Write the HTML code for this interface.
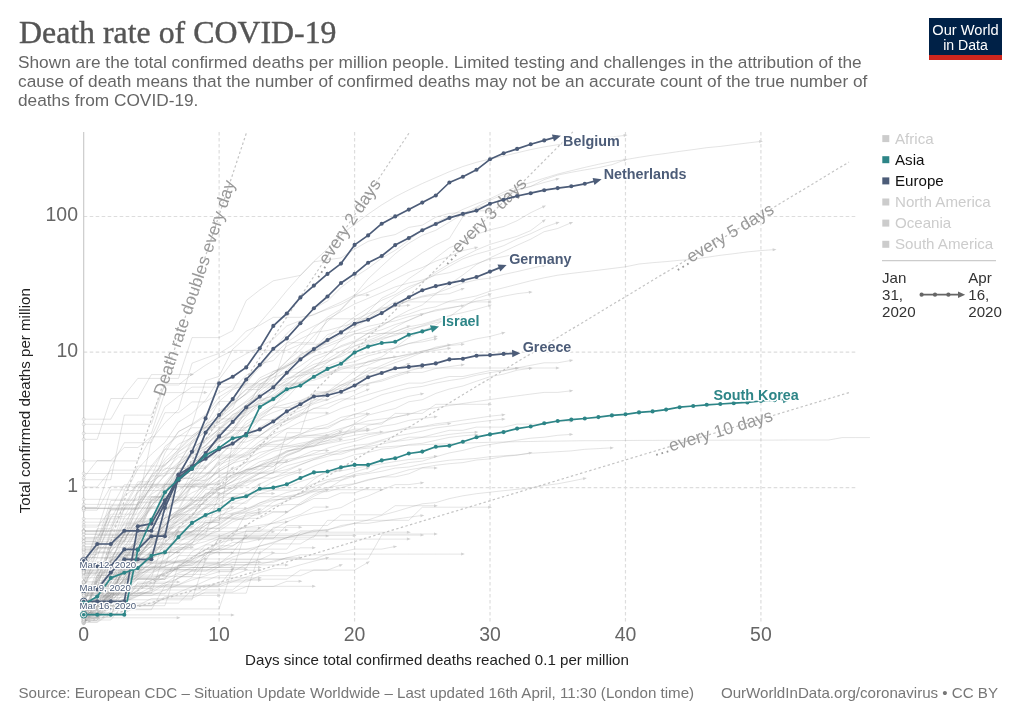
<!DOCTYPE html><html><head><meta charset="utf-8"><title>Death rate of COVID-19</title>
<style>html,body{margin:0;padding:0;background:#fff}svg{display:block}text{font-family:"Liberation Sans",Arial,sans-serif}</style></head><body>
<svg width="1020" height="720" viewBox="0 0 1020 720">
<rect width="1020" height="720" fill="#fff"/>
<text x="19" y="42.7" font-size="31.6" fill="#555" style="font-family:'Liberation Serif',Georgia,serif" textLength="317.5" lengthAdjust="spacingAndGlyphs" stroke="#555" stroke-width="0.4">Death rate of COVID-19</text>
<text x="18" y="67.7" font-size="17.28" fill="#666">Shown are the total confirmed deaths per million people. Limited testing and challenges in the attribution of the</text>
<text x="18" y="86.7" font-size="17.28" fill="#666">cause of death means that the number of confirmed deaths may not be an accurate count of the true number of</text>
<text x="18" y="105.7" font-size="17.28" fill="#666">deaths from COVID-19.</text>
<g><rect x="929" y="18" width="73" height="42" fill="#002147"/><rect x="929" y="55" width="73" height="5" fill="#ce261e"/>
<text x="965.5" y="34.5" font-size="15.5" fill="#fff" text-anchor="middle" textLength="66.5" lengthAdjust="spacingAndGlyphs">Our World</text>
<text x="965.5" y="50" font-size="15.5" fill="#fff" text-anchor="middle" textLength="44.7" lengthAdjust="spacingAndGlyphs">in Data</text></g>
<g stroke="#ddd" stroke-width="1.2" stroke-dasharray="3.6 2.4" fill="none"><line x1="83.67" y1="487.60" x2="857.4" y2="487.60"/><line x1="83.67" y1="352.05" x2="857.4" y2="352.05"/><line x1="83.67" y1="216.50" x2="857.4" y2="216.50"/><line x1="219.12" y1="131.9" x2="219.12" y2="623.2"/><line x1="354.57" y1="131.9" x2="354.57" y2="623.2"/><line x1="490.02" y1="131.9" x2="490.02" y2="623.2"/><line x1="625.47" y1="131.9" x2="625.47" y2="623.2"/><line x1="760.92" y1="131.9" x2="760.92" y2="623.2"/></g>
<line x1="83.67" y1="131.9" x2="83.67" y2="624.7" stroke="#ccc" stroke-width="1.2"/>
<text x="78" y="492.4" font-size="19.44" fill="#666" text-anchor="end">1</text>
<text x="78" y="356.9" font-size="19.44" fill="#666" text-anchor="end">10</text>
<text x="78" y="221.3" font-size="19.44" fill="#666" text-anchor="end">100</text>
<text x="83.7" y="641.4" font-size="19.44" fill="#666" text-anchor="middle">0</text>
<text x="219.1" y="641.4" font-size="19.44" fill="#666" text-anchor="middle">10</text>
<text x="354.6" y="641.4" font-size="19.44" fill="#666" text-anchor="middle">20</text>
<text x="490.0" y="641.4" font-size="19.44" fill="#666" text-anchor="middle">30</text>
<text x="625.5" y="641.4" font-size="19.44" fill="#666" text-anchor="middle">40</text>
<text x="760.9" y="641.4" font-size="19.44" fill="#666" text-anchor="middle">50</text>
<text x="437" y="665.1" font-size="15.12" fill="#222" text-anchor="middle">Days since total confirmed deaths reached 0.1 per million</text>
<text transform="translate(29.7,400.7) rotate(-90)" font-size="15.12" fill="#222" text-anchor="middle">Total confirmed deaths per million</text>
<g fill="none" stroke="#8c8c8c" stroke-width="1" stroke-opacity="0.23" stroke-linejoin="round"><path d="M83.7,619.2 L97.2,578.4 L110.8,547.2 L124.3,517.8 L137.8,504.6 L151.4,487.3 L164.9,453.1 L178.5,431.6 L192.0,424.7 L205.6,380.6 L219.1,376.4 L232.7,349.2 L246.2,337.6 L259.8,322.9 L273.3,307.2 L286.8,290.7 L300.4,275.4 L313.9,261.4 L327.5,248.9 L341.0,234.7 L354.6,224.4 L368.1,214.2 L381.7,204.9 L395.2,196.8 L408.8,189.9 L422.3,183.5 L435.8,177.6 L449.4,171.7 L462.9,166.5 L476.5,162.3 L490.0,159.0 L503.6,156.0 L517.1,152.8 L530.7,149.6 L544.2,146.9 L557.7,144.7 L571.3,142.8 L584.8,140.6 L598.4,138.8 L611.9,137.0 L625.5,135.3"/><polygon points="627.5,135.0 623.9,137.0 623.5,134.0" fill="#d2d2d2" stroke="none"/><circle cx="83.7" cy="619.2" r="1.5" fill="#fff" fill-opacity="0.6"/><path d="M83.7,593.5 L97.2,582.8 L110.8,562.3 L124.3,549.9 L137.8,530.8 L151.4,521.5 L164.9,496.5 L178.5,471.9 L192.0,454.0 L205.6,434.9 L219.1,418.1 L232.7,408.2 L246.2,381.6 L259.8,367.8 L273.3,349.5 L286.8,333.6 L300.4,321.5 L313.9,308.5 L327.5,300.9 L341.0,287.5 L354.6,277.1 L368.1,268.4 L381.7,258.2 L395.2,250.3 L408.8,240.3 L422.3,229.8 L435.8,222.3 L449.4,216.2 L462.9,209.4 L476.5,203.8 L490.0,198.8 L503.6,192.2 L517.1,186.7 L530.7,182.5 L544.2,178.2 L557.7,174.1 L571.3,170.7 L584.8,167.4 L598.4,164.3 L611.9,161.6 L625.5,159.6 L639.0,157.3 L652.6,155.2 L666.1,153.4 L679.6,151.4 L693.2,149.6 L706.7,147.7 L720.3,146.4 L733.8,144.7 L747.4,143.0 L760.9,141.4"/><polygon points="762.9,141.2 759.3,143.1 759.0,140.1" fill="#d2d2d2" stroke="none"/><circle cx="83.7" cy="593.5" r="1.5" fill="#fff" fill-opacity="0.6"/><path d="M83.7,604.2 L97.2,570.4 L110.8,560.2 L124.3,533.4 L137.8,527.7 L151.4,505.7 L164.9,491.6 L178.5,476.4 L192.0,468.0 L205.6,448.4 L219.1,439.4 L232.7,429.5 L246.2,410.0 L259.8,385.1 L273.3,373.9 L286.8,360.9 L300.4,350.2 L313.9,335.8 L327.5,321.3 L341.0,310.1 L354.6,295.8 L368.1,286.3 L381.7,277.5 L395.2,270.5 L408.8,261.8 L422.3,252.8 L435.8,244.9 L449.4,238.4 L462.9,216.7 L476.5,207.9 L490.0,203.9 L503.6,198.2 L517.1,189.5 L530.7,186.5 L544.2,179.6 L557.7,175.1 L571.3,172.3 L584.8,169.9 L598.4,167.6 L611.9,164.7 L625.5,159.6"/><polygon points="627.3,158.9 624.3,161.6 623.3,158.8" fill="#d2d2d2" stroke="none"/><circle cx="83.7" cy="604.2" r="1.5" fill="#fff" fill-opacity="0.6"/><path d="M83.7,613.5 L97.2,613.5 L110.8,556.7 L124.3,556.7 L137.8,526.6 L151.4,500.0 L164.9,494.9 L178.5,463.1 L192.0,443.3 L205.6,431.2 L219.1,415.0 L232.7,404.0 L246.2,393.6 L259.8,380.0 L273.3,374.6 L286.8,361.5 L300.4,345.5 L313.9,328.2 L327.5,317.2 L341.0,309.1 L354.6,295.0 L368.1,278.9 L381.7,266.2 L395.2,253.8 L408.8,243.2 L422.3,235.3 L435.8,230.3 L449.4,222.2 L462.9,213.9 L476.5,207.0 L490.0,200.2 L503.6,194.5 L517.1,190.2 L530.7,186.4 L544.2,182.5 L557.7,178.9"/><polygon points="559.7,178.4 556.4,180.8 555.6,177.9" fill="#d2d2d2" stroke="none"/><circle cx="83.7" cy="613.5" r="1.5" fill="#fff" fill-opacity="0.6"/><path d="M83.7,612.0 L97.2,602.5 L110.8,591.2 L124.3,579.9 L137.8,567.6 L151.4,553.5 L164.9,534.2 L178.5,515.8 L192.0,501.8 L205.6,486.0 L219.1,466.8 L232.7,453.6 L246.2,435.6 L259.8,419.6 L273.3,407.2 L286.8,391.0 L300.4,376.3 L313.9,368.4 L327.5,354.6 L341.0,339.8 L354.6,326.2 L368.1,316.5 L381.7,306.7 L395.2,296.5 L408.8,289.1 L422.3,281.4 L435.8,272.0 L449.4,263.8 L462.9,256.8 L476.5,249.9 L490.0,244.4 L503.6,240.3 L517.1,236.3 L530.7,230.6 L544.2,220.4"/><polygon points="545.8,219.2 543.7,222.7 541.9,220.3" fill="#d2d2d2" stroke="none"/><circle cx="83.7" cy="612.0" r="1.5" fill="#fff" fill-opacity="0.6"/><path d="M83.7,582.9 L97.2,582.9 L110.8,582.9 L124.3,559.1 L137.8,542.1 L151.4,518.3 L164.9,501.3 L178.5,477.5 L192.0,464.3 L205.6,453.6 L219.1,439.2 L232.7,431.9 L246.2,411.2 L259.8,391.1 L273.3,380.8 L286.8,370.4 L300.4,355.0 L313.9,347.0 L327.5,339.5 L341.0,332.0 L354.6,323.2 L368.1,312.1 L381.7,298.2 L395.2,291.6 L408.8,278.7 L422.3,269.7 L435.8,258.1 L449.4,247.7 L462.9,242.7 L476.5,234.3 L490.0,229.9 L503.6,226.5 L517.1,220.7 L530.7,212.7 L544.2,206.3"/><polygon points="546.0,205.4 543.2,208.4 541.9,205.7" fill="#d2d2d2" stroke="none"/><circle cx="83.7" cy="582.9" r="1.5" fill="#fff" fill-opacity="0.6"/><path d="M83.7,621.6 L97.2,602.5 L110.8,589.1 L124.3,562.3 L137.8,537.8 L151.4,521.2 L164.9,502.0 L178.5,490.7 L192.0,479.8 L205.6,468.0 L219.1,450.8 L232.7,441.0 L246.2,421.2 L259.8,413.8 L273.3,405.1 L286.8,397.9 L300.4,383.0 L313.9,373.2 L327.5,362.5 L341.0,353.7 L354.6,342.0 L368.1,333.0 L381.7,326.2 L395.2,317.5 L408.8,310.3 L422.3,305.0 L435.8,293.8 L449.4,284.2 L462.9,275.0 L476.5,264.5 L490.0,257.9 L503.6,251.6 L517.1,245.3 L530.7,239.2 L544.2,231.7 L557.7,228.5 L571.3,222.7"/><polygon points="573.1,221.9 570.2,224.8 569.0,222.0" fill="#d2d2d2" stroke="none"/><circle cx="83.7" cy="621.6" r="1.5" fill="#fff" fill-opacity="0.6"/><path d="M83.7,581.6 L97.2,581.6 L110.8,540.8 L124.3,540.8 L137.8,517.0 L151.4,500.0 L164.9,486.9 L178.5,467.1 L192.0,452.3 L205.6,446.1 L219.1,430.6 L232.7,418.4 L246.2,405.3 L259.8,387.6 L273.3,374.0 L286.8,364.5 L300.4,356.2 L313.9,350.2 L327.5,337.7 L341.0,326.7 L354.6,316.7 L368.1,308.2 L381.7,300.3 L395.2,294.6 L408.8,286.7 L422.3,281.8 L435.8,274.0 L449.4,266.3 L462.9,258.8 L476.5,254.1 L490.0,250.3 L503.6,245.7 L517.1,239.0 L530.7,233.7 L544.2,227.3 L557.7,222.6"/><polygon points="559.6,222.0 556.5,224.7 555.6,221.8" fill="#d2d2d2" stroke="none"/><circle cx="83.7" cy="581.6" r="1.5" fill="#fff" fill-opacity="0.6"/><path d="M83.7,583.5 L97.2,542.7 L110.8,518.8 L124.3,495.0 L137.8,469.0 L151.4,454.2 L164.9,442.4 L178.5,422.2 L192.0,413.4 L205.6,400.2 L219.1,379.5 L232.7,361.4 L246.2,353.8 L259.8,347.1 L273.3,339.1 L286.8,325.9 L300.4,320.6 L313.9,314.2 L327.5,309.3 L341.0,304.4 L354.6,297.0 L368.1,292.2 L381.7,286.4 L395.2,279.0 L408.8,272.2 L422.3,267.5 L435.8,261.1 L449.4,256.3 L462.9,250.6 L476.5,247.5"/><polygon points="478.4,247.1 475.0,249.4 474.4,246.5" fill="#d2d2d2" stroke="none"/><circle cx="83.7" cy="583.5" r="1.5" fill="#fff" fill-opacity="0.6"/><path d="M83.7,591.0 L97.2,550.2 L110.8,526.3 L124.3,496.2 L137.8,485.5 L151.4,468.6 L164.9,449.8 L178.5,431.6 L192.0,424.2 L205.6,414.6 L219.1,397.0 L232.7,388.8 L246.2,375.3 L259.8,366.9 L273.3,355.1 L286.8,342.6 L300.4,333.0 L313.9,326.1 L327.5,319.3 L341.0,311.7 L354.6,304.0 L368.1,298.4 L381.7,292.6 L395.2,286.9 L408.8,283.0 L422.3,280.0 L435.8,275.1 L449.4,272.7 L462.9,268.3 L476.5,263.6 L490.0,259.1 L503.6,256.6 L517.1,253.8"/><polygon points="519.1,253.5 515.6,255.7 515.0,252.7" fill="#d2d2d2" stroke="none"/><circle cx="83.7" cy="591.0" r="1.5" fill="#fff" fill-opacity="0.6"/><path d="M83.7,616.9 L97.2,576.1 L110.8,552.3 L124.3,535.3 L137.8,502.4 L151.4,487.6 L164.9,461.6 L178.5,450.2 L192.0,437.7 L205.6,427.5 L219.1,411.1 L232.7,402.8 L246.2,389.1 L259.8,381.0 L273.3,374.0 L286.8,366.0 L300.4,358.3 L313.9,351.4 L327.5,341.3 L341.0,331.8 L354.6,327.3 L368.1,319.3 L381.7,313.2 L395.2,306.2 L408.8,300.2 L422.3,296.1 L435.8,293.3 L449.4,288.3 L462.9,283.2 L476.5,279.8 L490.0,278.1 L503.6,274.5 L517.1,271.6 L530.7,268.4 L544.2,265.4"/><polygon points="546.2,265.0 542.8,267.3 542.1,264.3" fill="#d2d2d2" stroke="none"/><circle cx="83.7" cy="616.9" r="1.5" fill="#fff" fill-opacity="0.6"/><path d="M83.7,602.2 L97.2,578.3 L110.8,550.2 L124.3,540.8 L137.8,515.8 L151.4,494.3 L164.9,485.5 L178.5,466.1 L192.0,448.2 L205.6,439.2 L219.1,421.3 L232.7,411.3 L246.2,401.0 L259.8,389.1 L273.3,377.5 L286.8,366.1 L300.4,359.4 L313.9,351.4 L327.5,346.4 L341.0,340.9 L354.6,334.1 L368.1,330.4 L381.7,325.3 L395.2,317.8 L408.8,314.1 L422.3,309.3 L435.8,306.8 L449.4,301.2 L462.9,298.6 L476.5,295.9 L490.0,291.2 L503.6,287.8 L517.1,284.3 L530.7,280.8 L544.2,277.8 L557.7,275.2 L571.3,273.4 L584.8,271.8 L598.4,270.2 L611.9,268.5 L625.5,266.8 L639.0,264.0 L652.6,262.7 L666.1,261.6 L679.6,260.3 L693.2,259.3 L706.7,257.3 L720.3,255.3 L733.8,253.7 L747.4,251.9 L760.9,250.6 L774.5,249.6"/><polygon points="776.5,249.4 772.8,251.2 772.6,248.2" fill="#d2d2d2" stroke="none"/><circle cx="83.7" cy="602.2" r="1.5" fill="#fff" fill-opacity="0.6"/><path d="M83.7,587.1 L97.2,587.1 L110.8,546.3 L124.3,522.4 L137.8,505.5 L151.4,481.6 L164.9,472.5 L178.5,464.7 L192.0,440.8 L205.6,423.9 L219.1,416.9 L232.7,405.1 L246.2,393.1 L259.8,377.8 L273.3,371.4 L286.8,365.7 L300.4,359.2 L313.9,352.3 L327.5,342.3 L341.0,334.5 L354.6,331.4 L368.1,326.3 L381.7,323.5 L395.2,320.9 L408.8,316.6 L422.3,313.7 L435.8,310.9 L449.4,308.3 L462.9,305.3 L476.5,301.0 L490.0,299.2 L503.6,296.2 L517.1,293.7 L530.7,292.1"/><polygon points="532.6,291.9 529.0,293.8 528.7,290.8" fill="#d2d2d2" stroke="none"/><circle cx="83.7" cy="587.1" r="1.5" fill="#fff" fill-opacity="0.6"/><path d="M83.7,619.7 L97.2,606.5 L110.8,586.7 L124.3,565.7 L137.8,550.3 L151.4,538.1 L164.9,524.9 L178.5,516.7 L192.0,507.3 L205.6,497.2 L219.1,479.9 L232.7,471.0 L246.2,462.2 L259.8,445.6 L273.3,430.2 L286.8,423.5 L300.4,415.2 L313.9,400.3 L327.5,391.8 L341.0,381.7 L354.6,371.1 L368.1,361.3 L381.7,356.9 L395.2,347.4 L408.8,337.5 L422.3,330.7 L435.8,324.9 L449.4,316.7 L462.9,307.2 L476.5,298.4 L490.0,294.2"/><polygon points="491.9,293.6 488.7,296.2 487.9,293.3" fill="#d2d2d2" stroke="none"/><circle cx="83.7" cy="619.7" r="1.5" fill="#fff" fill-opacity="0.6"/><path d="M83.7,619.3 L97.2,597.7 L110.8,575.3 L124.3,552.5 L137.8,539.3 L151.4,519.5 L164.9,494.5 L178.5,477.5 L192.0,462.6 L205.6,444.9 L219.1,432.8 L232.7,423.8 L246.2,409.8 L259.8,403.3 L273.3,390.7 L286.8,379.4 L300.4,371.4 L313.9,364.3 L327.5,360.6 L341.0,356.6 L354.6,349.7 L368.1,343.5 L381.7,338.3 L395.2,335.6 L408.8,330.9 L422.3,325.5 L435.8,321.0 L449.4,317.5"/><polygon points="451.3,317.0 448.0,319.4 447.3,316.5" fill="#d2d2d2" stroke="none"/><circle cx="83.7" cy="619.3" r="1.5" fill="#fff" fill-opacity="0.6"/><path d="M83.7,620.7 L97.2,579.9 L110.8,566.8 L124.3,539.1 L137.8,520.4 L151.4,502.1 L164.9,488.2 L178.5,472.1 L192.0,463.3 L205.6,449.0 L219.1,438.8 L232.7,431.3 L246.2,416.7 L259.8,401.4 L273.3,394.7 L286.8,383.8 L300.4,375.0 L313.9,367.4 L327.5,359.2 L341.0,351.1 L354.6,345.9 L368.1,340.7 L381.7,335.1 L395.2,327.2 L408.8,320.2 L422.3,314.2"/><polygon points="424.1,313.4 421.2,316.3 420.0,313.6" fill="#d2d2d2" stroke="none"/><circle cx="83.7" cy="620.7" r="1.5" fill="#fff" fill-opacity="0.6"/><path d="M83.7,615.6 L97.2,574.8 L110.8,561.7 L124.3,534.0 L137.8,510.1 L151.4,493.2 L164.9,474.5 L178.5,462.4 L192.0,452.4 L205.6,439.3 L219.1,429.8 L232.7,415.4 L246.2,404.7 L259.8,395.6 L273.3,387.7 L286.8,381.3 L300.4,371.3 L313.9,360.3 L327.5,354.4 L341.0,345.7 L354.6,340.8 L368.1,333.5 L381.7,329.8 L395.2,324.5 L408.8,320.5 L422.3,314.7 L435.8,309.8 L449.4,307.7 L462.9,305.7"/><polygon points="464.9,305.4 461.4,307.4 460.9,304.4" fill="#d2d2d2" stroke="none"/><circle cx="83.7" cy="615.6" r="1.5" fill="#fff" fill-opacity="0.6"/><path d="M83.7,573.5 L97.2,573.5 L110.8,532.7 L124.3,508.8 L137.8,491.9 L151.4,478.7 L164.9,458.9 L178.5,444.1 L192.0,437.9 L205.6,427.2 L219.1,418.1 L232.7,403.3 L246.2,394.2 L259.8,384.0 L273.3,377.3 L286.8,373.2 L300.4,365.9 L313.9,356.3 L327.5,352.1 L341.0,346.8 L354.6,342.0 L368.1,337.6 L381.7,333.4 L395.2,331.5 L408.8,326.8 L422.3,324.2 L435.8,320.1 L449.4,315.5 L462.9,312.6 L476.5,309.2 L490.0,305.4"/><polygon points="491.9,304.8 488.7,307.3 487.9,304.4" fill="#d2d2d2" stroke="none"/><circle cx="83.7" cy="573.5" r="1.5" fill="#fff" fill-opacity="0.6"/><path d="M83.7,586.9 L97.2,586.9 L110.8,546.1 L124.3,532.9 L137.8,522.2 L151.4,505.3 L164.9,492.1 L178.5,472.3 L192.0,454.3 L205.6,445.7 L219.1,433.7 L232.7,421.8 L246.2,415.1 L259.8,406.3 L273.3,397.4 L286.8,389.7 L300.4,378.4 L313.9,369.7 L327.5,366.1 L341.0,360.9 L354.6,352.6 L368.1,345.4 L381.7,339.8 L395.2,334.3 L408.8,328.9 L422.3,326.4 L435.8,322.6 L449.4,319.7 L462.9,317.6"/><polygon points="464.9,317.3 461.4,319.3 460.9,316.4" fill="#d2d2d2" stroke="none"/><circle cx="83.7" cy="586.9" r="1.5" fill="#fff" fill-opacity="0.6"/><path d="M83.7,586.3 L97.2,586.3 L110.8,586.3 L124.3,562.5 L137.8,545.5 L151.4,521.7 L164.9,504.7 L178.5,480.8 L192.0,463.9 L205.6,453.8 L219.1,445.2 L232.7,428.9 L246.2,413.0 L259.8,404.4 L273.3,398.0 L286.8,385.1 L300.4,373.8 L313.9,367.0 L327.5,362.2 L341.0,354.9 L354.6,346.3 L368.1,342.0 L381.7,337.5 L395.2,331.4 L408.8,326.2"/><polygon points="410.6,325.5 407.6,328.2 406.5,325.4" fill="#d2d2d2" stroke="none"/><circle cx="83.7" cy="586.3" r="1.5" fill="#fff" fill-opacity="0.6"/><path d="M83.7,588.4 L97.2,547.6 L110.8,547.6 L124.3,523.7 L137.8,523.7 L151.4,506.8 L164.9,482.9 L178.5,466.0 L192.0,452.8 L205.6,442.1 L219.1,429.0 L232.7,418.2 L246.2,409.2 L259.8,403.8 L273.3,401.3 L286.8,392.2 L300.4,384.4 L313.9,375.8 L327.5,369.8 L341.0,364.3 L354.6,361.7 L368.1,355.8 L381.7,352.5 L395.2,347.4 L408.8,343.6 L422.3,340.0 L435.8,336.6"/><polygon points="437.8,336.1 434.5,338.5 433.7,335.6" fill="#d2d2d2" stroke="none"/><circle cx="83.7" cy="588.4" r="1.5" fill="#fff" fill-opacity="0.6"/><path d="M83.7,621.1 L97.2,580.3 L110.8,580.3 L124.3,556.4 L137.8,539.5 L151.4,526.4 L164.9,506.6 L178.5,498.7 L192.0,480.0 L205.6,474.8 L219.1,461.7 L232.7,451.0 L246.2,436.5 L259.8,427.1 L273.3,419.0 L286.8,411.8 L300.4,401.1 L313.9,395.7 L327.5,392.0 L341.0,385.2 L354.6,378.2 L368.1,371.0 L381.7,365.4 L395.2,359.6 L408.8,355.6 L422.3,351.2 L435.8,348.8 L449.4,344.9 L462.9,342.3 L476.5,338.8 L490.0,336.4 L503.6,332.8"/><polygon points="505.5,332.3 502.2,334.7 501.4,331.8" fill="#d2d2d2" stroke="none"/><circle cx="83.7" cy="621.1" r="1.5" fill="#fff" fill-opacity="0.6"/><path d="M83.7,615.2 L97.2,615.2 L110.8,574.4 L124.3,574.4 L137.8,550.5 L151.4,533.6 L164.9,520.5 L178.5,509.7 L192.0,485.9 L205.6,479.7 L219.1,459.9 L232.7,455.8 L246.2,438.9 L259.8,428.1 L273.3,421.2 L286.8,415.0 L300.4,407.6 L313.9,402.7 L327.5,395.2 L341.0,387.3 L354.6,380.4 L368.1,374.2 L381.7,367.7 L395.2,362.6 L408.8,358.0 L422.3,352.3 L435.8,347.1 L449.4,344.7"/><polygon points="451.4,344.4 447.9,346.5 447.3,343.6" fill="#d2d2d2" stroke="none"/><circle cx="83.7" cy="615.2" r="1.5" fill="#fff" fill-opacity="0.6"/><path d="M83.7,557.5 L97.2,557.5 L110.8,516.7 L124.3,516.7 L137.8,492.9 L151.4,475.9 L164.9,475.9 L178.5,452.0 L192.0,443.0 L205.6,428.2 L219.1,422.0 L232.7,411.2 L246.2,402.2 L259.8,394.3 L273.3,384.2 L286.8,378.3 L300.4,375.6 L313.9,372.9 L327.5,368.0 L341.0,363.5 L354.6,357.3 L368.1,353.5 L381.7,349.9 L395.2,348.2 L408.8,343.4 L422.3,341.9 L435.8,338.9"/><polygon points="437.8,338.5 434.4,340.8 433.8,337.8" fill="#d2d2d2" stroke="none"/><circle cx="83.7" cy="557.5" r="1.5" fill="#fff" fill-opacity="0.6"/><path d="M83.7,569.6 L97.2,528.8 L110.8,528.8 L124.3,505.0 L137.8,505.0 L151.4,474.9 L164.9,464.2 L178.5,455.1 L192.0,447.2 L205.6,440.3 L219.1,428.5 L232.7,414.3 L246.2,410.2 L259.8,399.5 L273.3,396.3 L286.8,387.7 L300.4,382.6 L313.9,380.2 L327.5,375.6 L341.0,369.4 L354.6,365.6 L368.1,362.1 L381.7,358.7 L395.2,357.1 L408.8,354.0 L422.3,351.0 L435.8,348.2 L449.4,345.6 L462.9,344.3"/><polygon points="464.9,344.1 461.3,345.9 461.0,342.9" fill="#d2d2d2" stroke="none"/><circle cx="83.7" cy="569.6" r="1.5" fill="#fff" fill-opacity="0.6"/><path d="M83.7,570.7 L97.2,570.7 L110.8,529.9 L124.3,529.9 L137.8,506.0 L151.4,489.1 L164.9,475.9 L178.5,465.2 L192.0,456.1 L205.6,448.2 L219.1,441.3 L232.7,435.1 L246.2,424.4 L259.8,415.3 L273.3,407.4 L286.8,403.9 L300.4,400.5 L313.9,394.3 L327.5,391.4 L341.0,388.7 L354.6,386.1 L368.1,383.6 L381.7,381.2 L395.2,376.6 L408.8,372.4 L422.3,372.4 L435.8,368.5 L449.4,366.6 L462.9,364.8"/><polygon points="464.9,364.6 461.3,366.6 460.9,363.6" fill="#d2d2d2" stroke="none"/><circle cx="83.7" cy="570.7" r="1.5" fill="#fff" fill-opacity="0.6"/><path d="M83.7,546.5 L97.2,546.5 L110.8,505.7 L124.3,505.7 L137.8,481.8 L151.4,481.8 L164.9,464.9 L178.5,451.8 L192.0,441.0 L205.6,432.0 L219.1,424.1 L232.7,417.2 L246.2,405.3 L259.8,395.5 L273.3,391.1 L286.8,383.3 L300.4,383.3 L313.9,376.4 L327.5,373.2 L341.0,367.3 L354.6,364.5 L368.1,361.9 L381.7,359.4 L395.2,357.0 L408.8,354.7 L422.3,352.5 L435.8,350.3 L449.4,348.3"/><polygon points="451.4,348.0 447.8,350.0 447.4,347.1" fill="#d2d2d2" stroke="none"/><circle cx="83.7" cy="546.5" r="1.5" fill="#fff" fill-opacity="0.6"/><path d="M83.7,606.7 L97.2,586.9 L110.8,572.1 L124.3,560.3 L137.8,542.0 L151.4,525.1 L164.9,509.6 L178.5,499.3 L192.0,485.8 L205.6,474.8 L219.1,464.5 L232.7,459.4 L246.2,452.2 L259.8,441.3 L273.3,434.0 L286.8,428.6 L300.4,422.1 L313.9,418.6 L327.5,414.4 L341.0,408.5 L354.6,404.2 L368.1,400.5 L381.7,394.8 L395.2,391.3 L408.8,388.1 L422.3,386.4 L435.8,383.1 L449.4,380.5 L462.9,378.5 L476.5,375.2 L490.0,372.7 L503.6,370.8 L517.1,368.3"/><polygon points="519.1,367.9 515.6,370.1 515.1,367.1" fill="#d2d2d2" stroke="none"/><circle cx="83.7" cy="606.7" r="1.5" fill="#fff" fill-opacity="0.6"/><path d="M83.7,615.4 L97.2,615.4 L110.8,604.6 L124.3,580.8 L137.8,574.6 L151.4,550.7 L164.9,543.3 L178.5,528.1 L192.0,516.1 L205.6,499.1 L219.1,490.1 L232.7,481.0 L246.2,472.1 L259.8,465.3 L273.3,460.8 L286.8,452.1 L300.4,447.9 L313.9,439.0 L327.5,435.0 L341.0,429.8 L354.6,423.6 L368.1,415.1 L381.7,411.7 L395.2,408.5 L408.8,401.8 L422.3,399.7 L435.8,393.4 L449.4,389.0 L462.9,386.0 L476.5,381.2 L490.0,376.7 L503.6,374.1 L517.1,370.2 L530.7,368.2"/><polygon points="532.6,367.9 529.1,369.9 528.7,367.0" fill="#d2d2d2" stroke="none"/><circle cx="83.7" cy="615.4" r="1.5" fill="#fff" fill-opacity="0.6"/><path d="M83.7,613.4 L97.2,581.5 L110.8,560.9 L124.3,548.8 L137.8,523.1 L151.4,508.8 L164.9,489.6 L178.5,482.3 L192.0,473.8 L205.6,456.3 L219.1,441.6 L232.7,436.2 L246.2,426.8 L259.8,418.5 L273.3,412.4 L286.8,407.7 L300.4,401.8 L313.9,397.4 L327.5,393.1 L341.0,385.1 L354.6,380.4 L368.1,376.4 L381.7,372.1 L395.2,369.5 L408.8,363.7"/><polygon points="410.6,363.0 407.7,365.8 406.5,363.1" fill="#d2d2d2" stroke="none"/><circle cx="83.7" cy="613.4" r="1.5" fill="#fff" fill-opacity="0.6"/><path d="M83.7,611.8 L97.2,598.7 L110.8,578.9 L124.3,557.9 L137.8,542.4 L151.4,523.3 L164.9,511.5 L178.5,497.3 L192.0,482.5 L205.6,476.3 L219.1,463.1 L232.7,456.5 L246.2,446.8 L259.8,435.5 L273.3,426.0 L286.8,416.2 L300.4,410.6 L313.9,403.8 L327.5,399.7 L341.0,393.9 L354.6,390.4 L368.1,383.3 L381.7,379.8 L395.2,375.1 L408.8,370.8 L422.3,367.5"/><polygon points="424.2,367.0 420.9,369.3 420.2,366.4" fill="#d2d2d2" stroke="none"/><circle cx="83.7" cy="611.8" r="1.5" fill="#fff" fill-opacity="0.6"/><path d="M83.7,549.9 L97.2,549.9 L110.8,509.1 L124.3,509.1 L137.8,509.1 L151.4,485.2 L164.9,485.2 L178.5,468.3 L192.0,468.3 L205.6,455.1 L219.1,455.1 L232.7,444.4 L246.2,435.3 L259.8,435.3 L273.3,427.5 L286.8,420.5 L300.4,414.3 L313.9,408.7 L327.5,403.6 L341.0,398.9 L354.6,398.9 L368.1,394.5 L381.7,390.5 L395.2,386.7 L408.8,383.1 L422.3,383.1 L435.8,379.7 L449.4,376.5 L462.9,376.5 L476.5,373.5 L490.0,370.6 L503.6,370.6 L517.1,367.9 L530.7,365.3 L544.2,362.8 L557.7,362.8 L571.3,360.4"/><polygon points="573.3,360.0 569.8,362.2 569.3,359.2" fill="#d2d2d2" stroke="none"/><circle cx="83.7" cy="549.9" r="1.5" fill="#fff" fill-opacity="0.6"/><path d="M83.7,601.7 L97.2,601.7 L110.8,601.7 L124.3,560.9 L137.8,560.9 L151.4,560.9 L164.9,537.1 L178.5,520.1 L192.0,520.1 L205.6,507.0 L219.1,496.3 L232.7,487.2 L246.2,479.3 L259.8,472.4 L273.3,460.6 L286.8,455.4 L300.4,450.7 L313.9,442.3 L327.5,438.5 L341.0,434.9 L354.6,431.6 L368.1,425.4 L381.7,422.5 L395.2,417.1 L408.8,414.6 L422.3,409.9 L435.8,407.7 L449.4,405.6 L462.9,403.5 L476.5,401.5 L490.0,399.6 L503.6,397.7 L517.1,395.9 L530.7,394.1 L544.2,392.4 L557.7,392.4 L571.3,390.8"/><polygon points="573.3,390.5 569.7,392.5 569.3,389.5" fill="#d2d2d2" stroke="none"/><circle cx="83.7" cy="601.7" r="1.5" fill="#fff" fill-opacity="0.6"/><path d="M83.7,600.4 L97.2,600.4 L110.8,559.6 L124.3,559.6 L137.8,535.8 L151.4,535.8 L164.9,535.8 L178.5,518.8 L192.0,518.8 L205.6,505.7 L219.1,495.0 L232.7,485.9 L246.2,485.9 L259.8,478.0 L273.3,478.0 L286.8,471.1 L300.4,464.9 L313.9,459.3 L327.5,454.2 L341.0,454.2 L354.6,449.5 L368.1,445.1 L381.7,441.0 L395.2,441.0 L408.8,437.2 L422.3,437.2 L435.8,433.7 L449.4,430.3 L462.9,430.3 L476.5,427.1 L490.0,427.1 L503.6,427.1 L517.1,424.1 L530.7,424.1 L544.2,424.1 L557.7,421.2 L571.3,421.2"/><polygon points="573.3,421.2 569.5,422.7 569.5,419.7" fill="#d2d2d2" stroke="none"/><circle cx="83.7" cy="600.4" r="1.5" fill="#fff" fill-opacity="0.6"/><path d="M83.7,610.3 L97.2,610.3 L110.8,599.6 L124.3,590.5 L137.8,575.7 L151.4,558.8 L164.9,549.7 L178.5,538.3 L192.0,531.7 L205.6,523.1 L219.1,520.5 L232.7,513.3 L246.2,508.9 L259.8,502.9 L273.3,497.5 L286.8,492.5 L300.4,489.4 L313.9,483.6 L327.5,479.7 L341.0,477.2 L354.6,475.9 L368.1,473.6 L381.7,471.3 L395.2,468.1 L408.8,467.0 L422.3,464.0 L435.8,462.1 L449.4,460.2 L462.9,459.3 L476.5,458.4 L490.0,456.7 L503.6,455.8 L517.1,454.9 L530.7,453.3 L544.2,452.5 L557.7,451.7 L571.3,450.9 L584.8,449.3 L598.4,448.6 L611.9,447.8"/><polygon points="613.9,447.7 610.2,449.4 610.0,446.4" fill="#d2d2d2" stroke="none"/><circle cx="83.7" cy="610.3" r="1.5" fill="#fff" fill-opacity="0.6"/><path d="M83.7,622.9 L97.2,604.7 L110.8,593.9 L124.3,574.6 L137.8,556.5 L151.4,542.7 L164.9,537.4 L178.5,529.3 L192.0,521.1 L205.6,508.4 L219.1,498.5 L232.7,490.7 L246.2,482.8 L259.8,478.9 L273.3,471.9 L286.8,465.7 L300.4,462.1 L313.9,458.1 L327.5,454.3 L341.0,448.8 L354.6,445.5 L368.1,444.0 L381.7,440.0 L395.2,436.1 L408.8,433.9 L422.3,431.1 L435.8,427.9 L449.4,426.2 L462.9,424.0 L476.5,422.2 L490.0,420.6 L503.6,419.1"/><polygon points="505.6,418.9 501.9,420.8 501.6,417.8" fill="#d2d2d2" stroke="none"/><circle cx="83.7" cy="622.9" r="1.5" fill="#fff" fill-opacity="0.6"/><path d="M83.7,621.5 L97.2,617.2 L110.8,605.8 L124.3,602.4 L137.8,596.2 L151.4,590.6 L164.9,583.0 L178.5,578.5 L192.0,570.4 L205.6,566.7 L219.1,563.2 L232.7,556.9 L246.2,552.5 L259.8,545.9 L273.3,542.2 L286.8,537.7 L300.4,534.5 L313.9,531.5 L327.5,529.6 L341.0,526.8 L354.6,523.3 L368.1,520.0 L381.7,515.3 L395.2,511.7 L408.8,507.6 L422.3,503.8 L435.8,502.6 L449.4,498.6 L462.9,495.8 L476.5,493.7 L490.0,492.2 L503.6,490.7 L517.1,489.3 L530.7,487.8 L544.2,485.5 L557.7,483.8 L571.3,481.2 L584.8,478.4"/><polygon points="586.8,477.9 583.4,480.2 582.8,477.3" fill="#d2d2d2" stroke="none"/><circle cx="83.7" cy="621.5" r="1.5" fill="#fff" fill-opacity="0.6"/><path d="M83.7,610.7 L97.2,610.7 L110.8,597.6 L124.3,577.8 L137.8,556.8 L151.4,546.1 L164.9,532.9 L178.5,519.0 L192.0,507.8 L205.6,502.9 L219.1,494.1 L232.7,488.3 L246.2,481.4 L259.8,478.2 L273.3,472.3 L286.8,469.6 L300.4,464.5 L313.9,459.8 L327.5,456.4 L341.0,452.3 L354.6,448.5 L368.1,446.6 L381.7,444.0 L395.2,441.4 L408.8,439.8 L422.3,437.4 L435.8,436.6 L449.4,434.4 L462.9,432.9 L476.5,432.2"/><polygon points="478.5,432.1 474.8,433.8 474.6,430.8" fill="#d2d2d2" stroke="none"/><circle cx="83.7" cy="610.7" r="1.5" fill="#fff" fill-opacity="0.6"/><path d="M83.7,618.7 L97.2,613.6 L110.8,600.4 L124.3,589.7 L137.8,575.3 L151.4,568.1 L164.9,559.6 L178.5,550.6 L192.0,542.7 L205.6,532.0 L219.1,524.0 L232.7,515.0 L246.2,508.9 L259.8,504.9 L273.3,500.4 L286.8,498.3 L300.4,493.7 L313.9,491.2 L327.5,487.6 L341.0,485.3 L354.6,483.7 L368.1,479.5 L381.7,477.1 L395.2,473.8 L408.8,469.8 L422.3,467.7 L435.8,465.3 L449.4,463.7 L462.9,462.6 L476.5,460.0 L490.0,458.9 L503.6,456.5 L517.1,455.2 L530.7,452.9"/><polygon points="532.6,452.5 529.1,454.6 528.6,451.7" fill="#d2d2d2" stroke="none"/><circle cx="83.7" cy="618.7" r="1.5" fill="#fff" fill-opacity="0.6"/><path d="M83.7,618.4 L97.2,605.3 L110.8,594.5 L124.3,570.7 L137.8,549.0 L151.4,533.2 L164.9,518.0 L178.5,512.9 L192.0,501.8 L205.6,496.0 L219.1,489.1 L232.7,481.4 L246.2,475.9 L259.8,469.7 L273.3,464.1 L286.8,462.0 L300.4,458.0 L313.9,453.4 L327.5,448.2 L341.0,444.3 L354.6,441.3 L368.1,437.1 L381.7,433.8 L395.2,430.7 L408.8,428.9 L422.3,426.6 L435.8,423.8 L449.4,422.2 L462.9,420.2 L476.5,418.2 L490.0,416.2 L503.6,414.8"/><polygon points="505.6,414.6 501.9,416.5 501.6,413.5" fill="#d2d2d2" stroke="none"/><circle cx="83.7" cy="618.4" r="1.5" fill="#fff" fill-opacity="0.6"/><path d="M83.7,592.1 L97.2,592.1 L110.8,592.1 L124.3,568.2 L137.8,551.3 L151.4,527.4 L164.9,518.3 L178.5,510.5 L192.0,503.5 L205.6,497.3 L219.1,486.6 L232.7,481.9 L246.2,469.7 L259.8,466.1 L273.3,459.6 L286.8,450.9 L300.4,448.3 L313.9,445.8 L327.5,443.4 L341.0,441.1 L354.6,438.9 L368.1,434.7 L381.7,432.7 L395.2,430.7 L408.8,427.1 L422.3,427.1 L435.8,425.3 L449.4,423.6"/><polygon points="451.4,423.3 447.8,425.3 447.4,422.3" fill="#d2d2d2" stroke="none"/><circle cx="83.7" cy="592.1" r="1.5" fill="#fff" fill-opacity="0.6"/><path d="M83.7,617.2 L97.2,606.5 L110.8,589.5 L124.3,576.4 L137.8,561.0 L151.4,552.5 L164.9,545.2 L178.5,532.7 L192.0,527.4 L205.6,515.8 L219.1,506.1 L232.7,502.7 L246.2,497.8 L259.8,489.2 L273.3,481.7 L286.8,476.0 L300.4,471.9 L313.9,466.2 L327.5,461.0 L341.0,459.4 L354.6,454.7 L368.1,452.5 L381.7,449.1 L395.2,447.7 L408.8,444.5 L422.3,443.3 L435.8,440.3 L449.4,437.4 L462.9,435.8 L476.5,434.7"/><polygon points="478.5,434.6 474.8,436.3 474.6,433.4" fill="#d2d2d2" stroke="none"/><circle cx="83.7" cy="617.2" r="1.5" fill="#fff" fill-opacity="0.6"/><path d="M83.7,620.4 L97.2,620.4 L110.8,596.6 L124.3,566.5 L137.8,555.8 L151.4,546.7 L164.9,525.7 L178.5,510.2 L192.0,498.0 L205.6,482.0 L219.1,469.4 L232.7,461.0 L246.2,455.4 L259.8,448.7 L273.3,441.2 L286.8,438.5 L300.4,434.6 L313.9,427.5 L327.5,424.3 L341.0,417.3 L354.6,414.6 L368.1,409.5 L381.7,404.8 L395.2,400.4 L408.8,396.3 L422.3,393.8"/><polygon points="424.3,393.4 420.8,395.6 420.2,392.6" fill="#d2d2d2" stroke="none"/><circle cx="83.7" cy="620.4" r="1.5" fill="#fff" fill-opacity="0.6"/><path d="M83.7,622.6 L97.2,610.4 L110.8,591.7 L124.3,569.6 L137.8,559.5 L151.4,538.8 L164.9,528.8 L178.5,521.1 L192.0,510.1 L205.6,501.4 L219.1,489.4 L232.7,476.7 L246.2,464.8 L259.8,455.6 L273.3,448.8 L286.8,439.9 L300.4,433.7 L313.9,430.3 L327.5,426.8 L341.0,420.5 L354.6,418.2 L368.1,413.9"/><polygon points="370.0,413.3 366.9,415.8 365.9,413.0" fill="#d2d2d2" stroke="none"/><circle cx="83.7" cy="622.6" r="1.5" fill="#fff" fill-opacity="0.6"/><path d="M83.7,613.5 L97.2,613.5 L110.8,596.5 L124.3,577.8 L137.8,555.7 L151.4,539.7 L164.9,524.9 L178.5,513.1 L192.0,503.3 L205.6,494.9 L219.1,484.1 L232.7,475.0 L246.2,469.7 L259.8,461.7 L273.3,458.1 L286.8,452.1 L300.4,446.1 L313.9,443.3 L327.5,440.7 L341.0,438.1 L354.6,435.2 L368.1,433.3 L381.7,431.9"/><polygon points="383.6,431.7 380.0,433.6 379.7,430.6" fill="#d2d2d2" stroke="none"/><circle cx="83.7" cy="613.5" r="1.5" fill="#fff" fill-opacity="0.6"/><path d="M83.7,621.8 L97.2,600.8 L110.8,591.3 L124.3,579.9 L137.8,566.2 L151.4,559.2 L164.9,546.2 L178.5,541.2 L192.0,535.1 L205.6,525.4 L219.1,515.6 L232.7,509.7 L246.2,501.0 L259.8,493.6 L273.3,489.9 L286.8,486.9 L300.4,481.6 L313.9,477.3 L327.5,472.6 L341.0,470.9 L354.6,468.2 L368.1,466.0 L381.7,463.9 L395.2,461.5 L408.8,459.5 L422.3,458.4 L435.8,456.4"/><polygon points="437.8,456.1 434.3,458.1 433.8,455.1" fill="#d2d2d2" stroke="none"/><circle cx="83.7" cy="621.8" r="1.5" fill="#fff" fill-opacity="0.6"/><path d="M83.7,613.6 L97.2,596.6 L110.8,596.6 L124.3,583.5 L137.8,572.8 L151.4,563.7 L164.9,563.7 L178.5,555.8 L192.0,542.7 L205.6,537.1 L219.1,527.3 L232.7,518.8 L246.2,515.0 L259.8,511.5 L273.3,501.9 L286.8,496.3 L300.4,493.7 L313.9,486.5 L327.5,482.1 L341.0,480.0 L354.6,474.2 L368.1,472.4 L381.7,467.3 L395.2,465.7 L408.8,462.6 L422.3,461.1 L435.8,456.8 L449.4,452.9 L462.9,450.4 L476.5,446.8 L490.0,444.5 L503.6,442.4 L517.1,440.2 L530.7,438.2 L544.2,437.2 L557.7,435.3 L571.3,434.4"/><polygon points="573.3,434.2 569.6,436.0 569.4,433.0" fill="#d2d2d2" stroke="none"/><circle cx="83.7" cy="613.6" r="1.5" fill="#fff" fill-opacity="0.6"/><path d="M83.7,623.2 L97.2,606.9 L110.8,592.5 L124.3,581.0 L137.8,571.4 L151.4,564.1 L164.9,554.2 L178.5,548.6 L192.0,545.0 L205.6,541.5 L219.1,536.4 L232.7,531.1 L246.2,527.3 L259.8,525.3 L273.3,523.3 L286.8,521.8"/><polygon points="288.8,521.6 285.2,523.5 284.9,520.5" fill="#d2d2d2" stroke="none"/><circle cx="83.7" cy="623.2" r="1.5" fill="#fff" fill-opacity="0.6"/><path d="M83.7,623.2 L97.2,608.2 L110.8,595.2 L124.3,590.6 L137.8,585.2 L151.4,580.5 L164.9,573.3 L178.5,568.2 L192.0,563.5 L205.6,558.5"/><polygon points="207.4,557.8 204.4,560.5 203.4,557.7" fill="#d2d2d2" stroke="none"/><circle cx="83.7" cy="623.2" r="1.5" fill="#fff" fill-opacity="0.6"/><path d="M83.7,621.6 L97.2,607.6 L110.8,591.5 L124.3,571.7 L137.8,555.6 L151.4,539.9 L164.9,533.5 L178.5,524.5 L192.0,515.4 L205.6,507.6 L219.1,503.2 L232.7,497.2 L246.2,491.8 L259.8,484.1 L273.3,477.6 L286.8,474.3 L300.4,469.4"/><polygon points="302.3,468.7 299.2,471.4 298.2,468.6" fill="#d2d2d2" stroke="none"/><circle cx="83.7" cy="621.6" r="1.5" fill="#fff" fill-opacity="0.6"/><path d="M83.7,615.2 L97.2,595.4 L110.8,574.4 L124.3,550.5 L137.8,543.2 L151.4,536.6 L164.9,525.4 L178.5,511.7 L192.0,500.7 L205.6,487.2 L219.1,476.2 L232.7,468.9 L246.2,462.4 L259.8,458.2 L273.3,451.3 L286.8,448.4 L300.4,445.1 L313.9,441.3 L327.5,437.1 L341.0,434.9 L354.6,432.2 L368.1,430.1"/><polygon points="370.1,429.8 366.6,431.9 366.1,428.9" fill="#d2d2d2" stroke="none"/><circle cx="83.7" cy="615.2" r="1.5" fill="#fff" fill-opacity="0.6"/><path d="M83.7,615.0 L97.2,615.0 L110.8,591.1 L124.3,567.2 L137.8,555.4 L151.4,541.2 L164.9,523.2 L178.5,514.6 L192.0,509.5 L205.6,494.4 L219.1,487.3 L232.7,477.9 L246.2,471.2 L259.8,465.1 L273.3,457.5 L286.8,450.8 L300.4,449.0 L313.9,446.5 L327.5,442.4 L341.0,439.3"/><polygon points="343.0,438.9 339.6,441.2 338.9,438.3" fill="#d2d2d2" stroke="none"/><circle cx="83.7" cy="615.0" r="1.5" fill="#fff" fill-opacity="0.6"/><path d="M83.7,581.8 L97.2,557.9 L110.8,557.9 L124.3,540.9 L137.8,527.8 L151.4,517.1 L164.9,508.0 L178.5,500.1 L192.0,487.0 L205.6,481.4 L219.1,471.6 L232.7,463.1 L246.2,459.3 L259.8,452.4 L273.3,449.2 L286.8,446.2 L300.4,443.3 L313.9,440.6 L327.5,435.5 L341.0,433.1 L354.6,430.8 L368.1,430.8 L381.7,426.4 L395.2,424.3 L408.8,420.4 L422.3,418.5 L435.8,416.7"/><polygon points="437.8,416.5 434.3,418.4 433.9,415.5" fill="#d2d2d2" stroke="none"/><circle cx="83.7" cy="581.8" r="1.5" fill="#fff" fill-opacity="0.6"/><path d="M83.7,549.9 L97.2,549.9 L110.8,509.1 L124.3,509.1 L137.8,509.1 L151.4,485.2 L164.9,468.3 L178.5,468.3 L192.0,468.3 L205.6,468.3 L219.1,455.1 L232.7,455.1 L246.2,455.1 L259.8,444.4 L273.3,444.4 L286.8,444.4 L300.4,435.3 L313.9,435.3 L327.5,435.3"/><polygon points="329.5,435.3 325.7,436.8 325.7,433.8" fill="#d2d2d2" stroke="none"/><circle cx="83.7" cy="549.9" r="1.5" fill="#fff" fill-opacity="0.6"/><path d="M83.7,419.2 L97.2,419.2 L110.8,419.2 L124.3,395.4 L137.8,378.4 L151.4,378.4 L164.9,378.4 L178.5,378.4 L192.0,337.6 L205.6,337.6 L219.1,337.6 L232.7,330.7 L246.2,300.6 L259.8,289.9 L273.3,280.8 L286.8,278.1 L300.4,275.4 L313.9,261.8 L327.5,259.8 L341.0,257.9 L354.6,249.1 L368.1,241.4 L381.7,237.3 L395.2,234.6 L408.8,227.4 L422.3,225.2 L435.8,217.1 L449.4,213.4 L462.9,212.5 L476.5,210.8 L490.0,210.8"/><polygon points="492.0,210.8 488.2,212.3 488.2,209.3" fill="#d2d2d2" stroke="none"/><circle cx="83.7" cy="419.2" r="1.5" fill="#fff" fill-opacity="0.6"/><path d="M83.7,424.3 L97.2,424.3 L110.8,424.3 L124.3,424.3 L137.8,424.3 L151.4,424.3 L164.9,383.5 L178.5,383.5 L192.0,383.5 L205.6,383.5 L219.1,383.5 L232.7,383.5 L246.2,383.5 L259.8,383.5 L273.3,383.5 L286.8,342.7 L300.4,342.7 L313.9,342.7 L327.5,318.8 L341.0,318.8 L354.6,318.8 L368.1,318.8 L381.7,309.7 L395.2,301.9 L408.8,301.9 L422.3,301.9 L435.8,301.9 L449.4,301.9 L462.9,301.9 L476.5,301.9 L490.0,301.9"/><polygon points="492.0,301.9 488.2,303.4 488.2,300.4" fill="#d2d2d2" stroke="none"/><circle cx="83.7" cy="424.3" r="1.5" fill="#fff" fill-opacity="0.6"/><path d="M83.7,439.3 L97.2,439.3 L110.8,398.5 L124.3,398.5 L137.8,398.5 L151.4,374.6 L164.9,374.6 L178.5,374.6 L192.0,374.6"/><polygon points="194.0,374.6 190.2,376.1 190.2,373.1" fill="#d2d2d2" stroke="none"/><circle cx="83.7" cy="439.3" r="1.5" fill="#fff" fill-opacity="0.6"/><path d="M83.7,479.7 L97.2,479.7 L110.8,479.7 L124.3,415.1 L137.8,415.1 L151.4,415.1 L164.9,385.0 L178.5,385.0 L192.0,374.3 L205.6,365.2 L219.1,357.3 L232.7,350.4 L246.2,350.4 L259.8,350.4 L273.3,350.4 L286.8,350.4 L300.4,344.2 L313.9,344.2 L327.5,344.2 L341.0,338.6 L354.6,333.5 L368.1,333.5 L381.7,333.5 L395.2,333.5 L408.8,333.5"/><polygon points="410.8,333.5 406.9,335.0 406.9,332.0" fill="#d2d2d2" stroke="none"/><circle cx="83.7" cy="479.7" r="1.5" fill="#fff" fill-opacity="0.6"/><path d="M83.7,504.4 L97.2,504.4 L110.8,504.4 L124.3,504.4 L137.8,504.4 L151.4,439.7 L164.9,422.8 L178.5,409.6 L192.0,363.2 L205.6,358.1 L219.1,353.4 L232.7,345.0 L246.2,331.1 L259.8,325.2 L273.3,317.3 L286.8,317.3 L300.4,317.3 L313.9,314.9 L327.5,308.2 L341.0,302.2 L354.6,295.1 L368.1,295.1"/><polygon points="370.1,295.1 366.3,296.6 366.3,293.6" fill="#d2d2d2" stroke="none"/><circle cx="83.7" cy="504.4" r="1.5" fill="#fff" fill-opacity="0.6"/><path d="M83.7,460.9 L97.2,460.9 L110.8,460.9 L124.3,460.9 L137.8,460.9 L151.4,437.0 L164.9,406.9 L178.5,396.2 L192.0,387.1 L205.6,387.1 L219.1,387.1 L232.7,387.1 L246.2,387.1 L259.8,387.1 L273.3,387.1 L286.8,372.3 L300.4,372.3 L313.9,372.3 L327.5,372.3 L341.0,372.3 L354.6,372.3 L368.1,372.3 L381.7,372.3 L395.2,372.3 L408.8,372.3"/><polygon points="410.8,372.3 406.9,373.8 406.9,370.8" fill="#d2d2d2" stroke="none"/><circle cx="83.7" cy="460.9" r="1.5" fill="#fff" fill-opacity="0.6"/><path d="M83.7,507.4 L97.2,507.4 L110.8,466.6 L124.3,442.7 L137.8,442.7 L151.4,442.7 L164.9,412.7 L178.5,412.7 L192.0,401.9 L205.6,401.9 L219.1,392.9 L232.7,385.0 L246.2,385.0 L259.8,385.0 L273.3,385.0 L286.8,385.0 L300.4,385.0 L313.9,385.0 L327.5,385.0 L341.0,385.0 L354.6,385.0 L368.1,385.0"/><polygon points="370.1,385.0 366.3,386.5 366.3,383.5" fill="#d2d2d2" stroke="none"/><circle cx="83.7" cy="507.4" r="1.5" fill="#fff" fill-opacity="0.6"/><path d="M83.7,518.8 L97.2,518.8 L110.8,518.8 L124.3,518.8 L137.8,518.8 L151.4,518.8 L164.9,518.8 L178.5,478.0 L192.0,478.0 L205.6,454.2 L219.1,437.2 L232.7,437.2 L246.2,437.2 L259.8,437.2 L273.3,437.2 L286.8,437.2 L300.4,437.2 L313.9,437.2 L327.5,437.2 L341.0,437.2 L354.6,424.1 L368.1,424.1 L381.7,424.1 L395.2,413.4 L408.8,413.4 L422.3,413.4 L435.8,404.3 L449.4,404.3 L462.9,404.3 L476.5,404.3 L490.0,404.3"/><polygon points="492.0,404.3 488.2,405.8 488.2,402.8" fill="#d2d2d2" stroke="none"/><circle cx="83.7" cy="518.8" r="1.5" fill="#fff" fill-opacity="0.6"/><path d="M83.7,473.5 L97.2,473.5 L110.8,473.5 L124.3,473.5 L137.8,473.5 L151.4,473.5 L164.9,473.5 L178.5,473.5 L192.0,473.5 L205.6,473.5 L219.1,473.5 L232.7,473.5 L246.2,473.5 L259.8,473.5 L273.3,473.5 L286.8,432.7 L300.4,432.7 L313.9,391.9 L327.5,391.9 L341.0,391.9 L354.6,378.8 L368.1,368.0 L381.7,368.0 L395.2,368.0 L408.8,368.0 L422.3,368.0 L435.8,368.0 L449.4,368.0 L462.9,368.0 L476.5,368.0 L490.0,368.0 L503.6,368.0 L517.1,368.0 L530.7,368.0 L544.2,368.0 L557.7,368.0"/><polygon points="559.7,368.0 555.9,369.5 555.9,366.5" fill="#d2d2d2" stroke="none"/><circle cx="83.7" cy="473.5" r="1.5" fill="#fff" fill-opacity="0.6"/><path d="M83.7,433.4 L97.2,433.4 L110.8,433.4 L124.3,433.4 L137.8,433.4 L151.4,433.4 L164.9,392.6 L178.5,392.6 L192.0,392.6 L205.6,392.6"/><polygon points="207.6,392.6 203.8,394.1 203.8,391.1" fill="#d2d2d2" stroke="none"/><circle cx="83.7" cy="433.4" r="1.5" fill="#fff" fill-opacity="0.6"/><path d="M83.7,534.0 L97.2,534.0 L110.8,534.0 L124.3,534.0 L137.8,534.0 L151.4,534.0 L164.9,534.0 L178.5,534.0 L192.0,534.0 L205.6,534.0 L219.1,534.0 L232.7,534.0 L246.2,534.0 L259.8,534.0 L273.3,534.0 L286.8,534.0 L300.4,534.0 L313.9,534.0 L327.5,534.0 L341.0,534.0 L354.6,534.0 L368.1,534.0 L381.7,534.0 L395.2,534.0 L408.8,534.0 L422.3,534.0 L435.8,534.0"/><polygon points="437.8,534.0 434.0,535.5 434.0,532.5" fill="#d2d2d2" stroke="none"/><circle cx="83.7" cy="534.0" r="1.5" fill="#fff" fill-opacity="0.6"/><path d="M83.7,539.1 L97.2,539.1 L110.8,539.1 L124.3,539.1 L137.8,539.1 L151.4,539.1 L164.9,539.1 L178.5,539.1 L192.0,539.1 L205.6,539.1 L219.1,539.1 L232.7,539.1 L246.2,539.1 L259.8,539.1 L273.3,539.1 L286.8,539.1 L300.4,539.1 L313.9,539.1 L327.5,539.1 L341.0,539.1 L354.6,539.1 L368.1,539.1 L381.7,539.1 L395.2,539.1 L408.8,539.1"/><polygon points="410.8,539.1 406.9,540.6 406.9,537.6" fill="#d2d2d2" stroke="none"/><circle cx="83.7" cy="539.1" r="1.5" fill="#fff" fill-opacity="0.6"/><path d="M83.7,525.1 L97.2,525.1 L110.8,525.1 L124.3,525.1 L137.8,525.1 L151.4,525.1 L164.9,484.3 L178.5,484.3 L192.0,460.4 L205.6,460.4 L219.1,430.3 L232.7,430.3 L246.2,430.3 L259.8,430.3"/><polygon points="261.8,430.3 258.0,431.8 258.0,428.8" fill="#d2d2d2" stroke="none"/><circle cx="83.7" cy="525.1" r="1.5" fill="#fff" fill-opacity="0.6"/><path d="M83.7,522.2 L97.2,522.2 L110.8,522.2 L124.3,522.2 L137.8,522.2 L151.4,522.2 L164.9,522.2 L178.5,522.2 L192.0,522.2 L205.6,522.2 L219.1,522.2 L232.7,440.6 L246.2,427.5 L259.8,416.7 L273.3,407.6 L286.8,407.6 L300.4,407.6 L313.9,399.8 L327.5,399.8"/><polygon points="329.5,399.8 325.7,401.3 325.7,398.3" fill="#d2d2d2" stroke="none"/><circle cx="83.7" cy="522.2" r="1.5" fill="#fff" fill-opacity="0.6"/><path d="M83.7,530.7 L97.2,530.7 L110.8,530.7 L124.3,530.7 L137.8,489.9 L151.4,466.0 L164.9,449.1 L178.5,449.1 L192.0,436.0 L205.6,425.2 L219.1,401.4 L232.7,401.4 L246.2,389.6 L259.8,389.6 L273.3,371.3 L286.8,367.5 L300.4,354.4 L313.9,348.7 L327.5,334.6 L341.0,330.5 L354.6,319.8 L368.1,313.6 L381.7,309.3 L395.2,306.6 L408.8,300.4 L422.3,297.0 L435.8,294.8 L449.4,293.7 L462.9,288.7"/><polygon points="464.8,288.0 461.8,290.7 460.7,287.9" fill="#d2d2d2" stroke="none"/><circle cx="83.7" cy="530.7" r="1.5" fill="#fff" fill-opacity="0.6"/><path d="M83.7,530.7 L97.2,530.7 L110.8,489.9 L124.3,489.9 L137.8,466.0 L151.4,466.0 L164.9,466.0 L178.5,449.1 L192.0,425.2 L205.6,416.2 L219.1,401.4 L232.7,389.6 L246.2,384.4 L259.8,363.9 L273.3,360.6 L286.8,346.1 L300.4,338.9 L313.9,332.5 L327.5,330.5 L341.0,326.7 L354.6,323.1 L368.1,316.6 L381.7,307.9 L395.2,306.6 L408.8,305.3"/><polygon points="410.7,305.1 407.1,307.0 406.8,304.0" fill="#d2d2d2" stroke="none"/><circle cx="83.7" cy="530.7" r="1.5" fill="#fff" fill-opacity="0.6"/><path d="M83.7,600.1 L97.2,580.6 L110.8,561.4 L124.3,545.8 L137.8,531.0 L151.4,518.1 L164.9,509.3 L178.5,501.9 L192.0,492.8 L205.6,486.5 L219.1,481.1 L232.7,474.9 L246.2,470.4 L259.8,465.9 L273.3,462.6 L286.8,459.5 L300.4,457.3 L313.9,454.9 L327.5,452.7 L341.0,451.0 L354.6,449.5 L368.1,448.1 L381.7,447.2 L395.2,446.2 L408.8,445.3 L422.3,444.7 L435.8,444.2 L449.4,443.6 L462.9,443.1 L476.5,442.7 L490.0,442.3 L503.6,442.0 L517.1,441.7 L530.7,441.5 L544.2,441.2 L557.7,441.1 L571.3,440.9 L584.8,440.7 L598.4,440.7 L611.9,440.6 L625.5,440.5 L639.0,440.4 L652.6,440.4 L666.1,440.3 L679.6,440.3 L693.2,440.2 L706.7,440.2 L720.3,440.2 L733.8,440.1 L747.4,440.1 L760.9,440.1 L774.5,440.1 L788.0,440.0 L801.6,440.0 L815.1,440.0 L828.6,440.0 L842.2,437.6 L855.7,437.6 L869.3,437.6 L870.0,437.6"/><circle cx="83.7" cy="600.1" r="1.5" fill="#fff" fill-opacity="0.6"/><path d="M83.7,620.2 L97.2,620.2 L110.8,579.4 L124.3,579.4 L137.8,579.4 L151.4,579.4 L164.9,579.4 L178.5,555.6 L192.0,555.6 L205.6,555.6 L219.1,538.6 L232.7,538.6 L246.2,538.6 L259.8,538.6 L273.3,538.6 L286.8,525.5 L300.4,525.5 L313.9,525.5 L327.5,525.5 L341.0,514.8 L354.6,514.8 L368.1,514.8 L381.7,514.8 L395.2,505.7 L408.8,505.7 L422.3,505.7 L435.8,505.7"/><polygon points="437.8,505.7 434.0,507.2 434.0,504.2" fill="#d2d2d2" stroke="none"/><circle cx="83.7" cy="620.2" r="1.5" fill="#fff" fill-opacity="0.6"/><path d="M83.7,566.1 L97.2,552.9 L110.8,552.9 L124.3,552.9 L137.8,542.2 L151.4,542.2 L164.9,533.1 L178.5,533.1 L192.0,533.1 L205.6,525.3 L219.1,518.3 L232.7,518.3 L246.2,518.3 L259.8,518.3 L273.3,512.1 L286.8,512.1"/><polygon points="288.8,512.1 285.0,513.6 285.0,510.6" fill="#d2d2d2" stroke="none"/><circle cx="83.7" cy="566.1" r="1.5" fill="#fff" fill-opacity="0.6"/><path d="M83.7,554.4 L97.2,554.4 L110.8,537.5 L124.3,537.5 L137.8,524.3 L151.4,524.3 L164.9,524.3 L178.5,513.6 L192.0,504.5 L205.6,504.5 L219.1,504.5 L232.7,496.7 L246.2,496.7 L259.8,496.7 L273.3,496.7 L286.8,496.7 L300.4,496.7 L313.9,489.7 L327.5,489.7 L341.0,489.7 L354.6,489.7 L368.1,489.7 L381.7,489.7"/><polygon points="383.7,489.7 379.9,491.2 379.9,488.2" fill="#d2d2d2" stroke="none"/><circle cx="83.7" cy="554.4" r="1.5" fill="#fff" fill-opacity="0.6"/><path d="M83.7,622.5 L97.2,622.5 L110.8,613.4 L124.3,613.4 L137.8,605.6 L151.4,598.6 L164.9,598.6 L178.5,592.4 L192.0,586.8 L205.6,586.8 L219.1,586.8 L232.7,581.7 L246.2,577.0 L259.8,572.6 L273.3,568.6 L286.8,568.6 L300.4,564.8 L313.9,561.2 L327.5,557.8"/><polygon points="329.4,557.3 326.1,559.7 325.4,556.8" fill="#d2d2d2" stroke="none"/><circle cx="83.7" cy="622.5" r="1.5" fill="#fff" fill-opacity="0.6"/><path d="M83.7,531.3 L97.2,531.3 L110.8,531.3 L124.3,490.5 L137.8,490.5 L151.4,490.5 L164.9,490.5"/><polygon points="166.9,490.5 163.1,492.0 163.1,489.0" fill="#d2d2d2" stroke="none"/><circle cx="83.7" cy="531.3" r="1.5" fill="#fff" fill-opacity="0.6"/><path d="M83.7,534.4 L97.2,534.4 L110.8,534.4 L124.3,534.4 L137.8,534.4 L151.4,534.4 L164.9,534.4 L178.5,534.4 L192.0,534.4 L205.6,534.4 L219.1,493.6 L232.7,493.6 L246.2,493.6 L259.8,493.6 L273.3,493.6"/><polygon points="275.3,493.6 271.5,495.1 271.5,492.1" fill="#d2d2d2" stroke="none"/><circle cx="83.7" cy="534.4" r="1.5" fill="#fff" fill-opacity="0.6"/><path d="M83.7,617.6 L97.2,617.6 L110.8,593.8 L124.3,593.8 L137.8,593.8 L151.4,593.8 L164.9,593.8 L178.5,576.8 L192.0,576.8 L205.6,563.7 L219.1,563.7 L232.7,553.0 L246.2,553.0 L259.8,553.0 L273.3,543.9 L286.8,543.9 L300.4,543.9 L313.9,536.0 L327.5,536.0"/><polygon points="329.5,536.0 325.7,537.5 325.7,534.5" fill="#d2d2d2" stroke="none"/><circle cx="83.7" cy="617.6" r="1.5" fill="#fff" fill-opacity="0.6"/><path d="M83.7,616.6 L97.2,608.7 L110.8,608.7 L124.3,601.8 L137.8,595.6 L151.4,595.6 L164.9,590.0 L178.5,584.8 L192.0,580.1 L205.6,575.8 L219.1,571.7 L232.7,571.7 L246.2,564.3 L259.8,564.3 L273.3,561.0 L286.8,557.8 L300.4,554.8 L313.9,554.8 L327.5,554.8 L341.0,551.9 L354.6,549.1 L368.1,549.1 L381.7,549.1 L395.2,546.5"/><polygon points="397.2,546.2 393.7,548.3 393.2,545.4" fill="#d2d2d2" stroke="none"/><circle cx="83.7" cy="616.6" r="1.5" fill="#fff" fill-opacity="0.6"/><path d="M83.7,575.0 L97.2,575.0 L110.8,575.0 L124.3,575.0 L137.8,575.0 L151.4,575.0 L164.9,575.0"/><polygon points="166.9,575.0 163.1,576.5 163.1,573.5" fill="#d2d2d2" stroke="none"/><circle cx="83.7" cy="575.0" r="1.5" fill="#fff" fill-opacity="0.6"/><path d="M83.7,618.8 L97.2,605.7 L110.8,594.9 L124.3,594.9 L137.8,585.8 L151.4,585.8 L164.9,585.8 L178.5,578.0 L192.0,571.0 L205.6,571.0 L219.1,564.8 L232.7,564.8 L246.2,564.8 L259.8,559.2 L273.3,559.2 L286.8,559.2 L300.4,559.2 L313.9,559.2 L327.5,554.1 L341.0,554.1 L354.6,554.1 L368.1,554.1 L381.7,554.1 L395.2,554.1 L408.8,554.1 L422.3,554.1 L435.8,554.1 L449.4,554.1 L462.9,554.1"/><polygon points="464.9,554.1 461.1,555.6 461.1,552.6" fill="#d2d2d2" stroke="none"/><circle cx="83.7" cy="618.8" r="1.5" fill="#fff" fill-opacity="0.6"/><path d="M83.7,570.9 L97.2,570.9 L110.8,570.9 L124.3,570.9 L137.8,570.9 L151.4,570.9 L164.9,570.9 L178.5,570.9 L192.0,570.9 L205.6,570.9 L219.1,570.9 L232.7,570.9 L246.2,530.1 L259.8,530.1 L273.3,530.1 L286.8,530.1"/><polygon points="288.8,530.1 285.0,531.6 285.0,528.6" fill="#d2d2d2" stroke="none"/><circle cx="83.7" cy="570.9" r="1.5" fill="#fff" fill-opacity="0.6"/><path d="M83.7,543.1 L97.2,543.1 L110.8,543.1 L124.3,543.1 L137.8,502.3 L151.4,502.3 L164.9,502.3 L178.5,478.4 L192.0,478.4 L205.6,461.5 L219.1,448.4 L232.7,448.4 L246.2,448.4 L259.8,448.4 L273.3,437.6 L286.8,428.6 L300.4,428.6 L313.9,428.6 L327.5,428.6 L341.0,420.7 L354.6,413.8 L368.1,413.8"/><polygon points="370.1,413.8 366.3,415.3 366.3,412.3" fill="#d2d2d2" stroke="none"/><circle cx="83.7" cy="543.1" r="1.5" fill="#fff" fill-opacity="0.6"/><path d="M83.7,595.9 L97.2,595.9 L110.8,595.9 L124.3,555.1 L137.8,555.1 L151.4,531.2 L164.9,531.2 L178.5,514.3 L192.0,514.3 L205.6,514.3 L219.1,501.1 L232.7,490.4 L246.2,481.3 L259.8,473.5 L273.3,466.5 L286.8,454.7 L300.4,449.6 L313.9,444.9 L327.5,440.5 L341.0,432.7 L354.6,429.1 L368.1,429.1"/><polygon points="370.1,429.1 366.3,430.6 366.3,427.6" fill="#d2d2d2" stroke="none"/><circle cx="83.7" cy="595.9" r="1.5" fill="#fff" fill-opacity="0.6"/><path d="M83.7,508.0 L97.2,508.0 L110.8,508.0 L124.3,508.0 L137.8,484.1 L151.4,484.1 L164.9,484.1 L178.5,484.1 L192.0,484.1 L205.6,467.2"/><polygon points="206.8,465.6 205.6,469.5 203.3,467.7" fill="#d2d2d2" stroke="none"/><circle cx="83.7" cy="508.0" r="1.5" fill="#fff" fill-opacity="0.6"/><path d="M83.7,567.0 L97.2,567.0 L110.8,567.0 L124.3,567.0 L137.8,567.0 L151.4,567.0 L164.9,567.0 L178.5,526.2 L192.0,526.2"/><polygon points="194.0,526.2 190.2,527.7 190.2,524.7" fill="#d2d2d2" stroke="none"/><circle cx="83.7" cy="567.0" r="1.5" fill="#fff" fill-opacity="0.6"/><path d="M83.7,573.0 L97.2,573.0 L110.8,573.0 L124.3,573.0 L137.8,573.0 L151.4,549.1 L164.9,549.1 L178.5,549.1 L192.0,549.1 L205.6,549.1 L219.1,549.1 L232.7,549.1 L246.2,549.1 L259.8,549.1 L273.3,549.1 L286.8,549.1 L300.4,532.2 L313.9,532.2 L327.5,532.2 L341.0,532.2 L354.6,532.2 L368.1,532.2 L381.7,532.2 L395.2,532.2 L408.8,532.2"/><polygon points="410.8,532.2 406.9,533.7 406.9,530.7" fill="#d2d2d2" stroke="none"/><circle cx="83.7" cy="573.0" r="1.5" fill="#fff" fill-opacity="0.6"/><path d="M83.7,608.7 L97.2,601.8 L110.8,601.8 L124.3,595.6 L137.8,595.6 L151.4,590.0 L164.9,590.0 L178.5,590.0 L192.0,590.0 L205.6,584.9 L219.1,584.9 L232.7,580.2 L246.2,580.2 L259.8,580.2"/><polygon points="261.8,580.2 258.0,581.7 258.0,578.7" fill="#d2d2d2" stroke="none"/><circle cx="83.7" cy="608.7" r="1.5" fill="#fff" fill-opacity="0.6"/><path d="M83.7,548.7 L97.2,548.7 L110.8,548.7 L124.3,507.9 L137.8,507.9 L151.4,507.9 L164.9,507.9 L178.5,507.9 L192.0,484.0 L205.6,484.0 L219.1,484.0"/><polygon points="221.1,484.0 217.3,485.5 217.3,482.5" fill="#d2d2d2" stroke="none"/><circle cx="83.7" cy="548.7" r="1.5" fill="#fff" fill-opacity="0.6"/><path d="M83.7,595.1 L97.2,595.1 L110.8,554.3 L124.3,554.3 L137.8,554.3 L151.4,554.3 L164.9,554.3 L178.5,530.5"/><polygon points="179.5,528.7 178.9,532.8 176.3,531.3" fill="#d2d2d2" stroke="none"/><circle cx="83.7" cy="595.1" r="1.5" fill="#fff" fill-opacity="0.6"/><path d="M83.7,577.7 L97.2,577.7 L110.8,577.7 L124.3,577.7 L137.8,577.7 L151.4,577.7 L164.9,536.9 L178.5,536.9 L192.0,536.9 L205.6,536.9 L219.1,536.9 L232.7,536.9 L246.2,513.0 L259.8,513.0"/><polygon points="261.8,513.0 258.0,514.5 258.0,511.5" fill="#d2d2d2" stroke="none"/><circle cx="83.7" cy="577.7" r="1.5" fill="#fff" fill-opacity="0.6"/><path d="M83.7,585.8 L97.2,561.9 L110.8,561.9 L124.3,531.9 L137.8,521.1 L151.4,521.1 L164.9,512.1 L178.5,497.3 L192.0,480.3 L205.6,480.3 L219.1,471.3 L232.7,463.4 L246.2,453.3 L259.8,444.7 L273.3,442.0 L286.8,439.5 L300.4,437.1 L313.9,434.8 L327.5,432.6 L341.0,428.4 L354.6,424.5 L368.1,420.8 L381.7,419.0 L395.2,417.3 L408.8,414.0"/><polygon points="410.7,413.6 407.4,415.9 406.6,413.0" fill="#d2d2d2" stroke="none"/><circle cx="83.7" cy="585.8" r="1.5" fill="#fff" fill-opacity="0.6"/><path d="M83.7,618.2 L97.2,618.2 L110.8,607.5 L124.3,598.4 L137.8,590.6 L151.4,583.6 L164.9,577.4 L178.5,566.7 L192.0,557.6 L205.6,549.8 L219.1,542.8 L232.7,539.6"/><polygon points="234.6,539.2 231.3,541.5 230.6,538.6" fill="#d2d2d2" stroke="none"/><circle cx="83.7" cy="618.2" r="1.5" fill="#fff" fill-opacity="0.6"/><path d="M83.7,604.9 L97.2,604.9 L110.8,597.1 L124.3,590.1 L137.8,578.3 L151.4,578.3 L164.9,573.2 L178.5,568.5 L192.0,560.1 L205.6,552.7 L219.1,549.3 L232.7,549.3 L246.2,549.3 L259.8,546.1 L273.3,543.1 L286.8,537.5 L300.4,534.9 L313.9,530.0 L327.5,530.0 L341.0,525.5 L354.6,523.3 L368.1,523.3 L381.7,521.2 L395.2,519.2 L408.8,517.3 L422.3,515.4"/><polygon points="424.3,515.2 420.7,517.2 420.3,514.2" fill="#d2d2d2" stroke="none"/><circle cx="83.7" cy="604.9" r="1.5" fill="#fff" fill-opacity="0.6"/><path d="M83.7,508.6 L97.2,508.6 L110.8,508.6 L124.3,484.7 L137.8,484.7 L151.4,484.7 L164.9,484.7 L178.5,484.7 L192.0,484.7 L205.6,484.7 L219.1,484.7 L232.7,467.8"/><polygon points="233.9,466.2 232.7,470.1 230.4,468.2" fill="#d2d2d2" stroke="none"/><circle cx="83.7" cy="508.6" r="1.5" fill="#fff" fill-opacity="0.6"/><path d="M83.7,614.1 L97.2,614.1 L110.8,601.0 L124.3,601.0 L137.8,590.3 L151.4,573.3 L164.9,566.4 L178.5,560.2 L192.0,560.2 L205.6,544.8 L219.1,544.8 L232.7,532.5 L246.2,525.6"/><polygon points="248.0,524.7 245.3,527.8 243.9,525.1" fill="#d2d2d2" stroke="none"/><circle cx="83.7" cy="614.1" r="1.5" fill="#fff" fill-opacity="0.6"/><path d="M83.7,477.6 L97.2,460.6 L110.8,460.6 L124.3,447.5 L137.8,447.5 L151.4,436.8 L164.9,436.8 L178.5,436.8 L192.0,427.7 L205.6,427.7 L219.1,427.7 L232.7,427.7 L246.2,427.7 L259.8,419.8 L273.3,419.8 L286.8,419.8 L300.4,412.9 L313.9,412.9 L327.5,412.9"/><polygon points="329.5,412.9 325.7,414.4 325.7,411.4" fill="#d2d2d2" stroke="none"/><circle cx="83.7" cy="477.6" r="1.5" fill="#fff" fill-opacity="0.6"/><path d="M83.7,571.5 L97.2,530.6 L110.8,530.6 L124.3,530.6 L137.8,530.6 L151.4,506.8 L164.9,506.8 L178.5,476.7 L192.0,466.0 L205.6,466.0 L219.1,456.9 L232.7,442.1 L246.2,442.1 L259.8,435.9 L273.3,425.2 L286.8,420.5 L300.4,416.1 L313.9,408.2 L327.5,408.2 L341.0,401.3 L354.6,395.1 L368.1,389.5"/><polygon points="370.0,388.7 367.0,391.6 365.9,388.8" fill="#d2d2d2" stroke="none"/><circle cx="83.7" cy="571.5" r="1.5" fill="#fff" fill-opacity="0.6"/><path d="M83.7,538.1 L97.2,538.1 L110.8,514.2 L124.3,514.2 L137.8,514.2 L151.4,497.3 L164.9,497.3 L178.5,497.3 L192.0,497.3 L205.6,497.3 L219.1,497.3 L232.7,497.3 L246.2,497.3 L259.8,484.2"/><polygon points="261.2,482.8 259.5,486.5 257.4,484.3" fill="#d2d2d2" stroke="none"/><circle cx="83.7" cy="538.1" r="1.5" fill="#fff" fill-opacity="0.6"/><path d="M83.7,601.9 L97.2,601.9 L110.8,601.9 L124.3,561.1 L137.8,561.1 L151.4,561.1 L164.9,561.1 L178.5,561.1 L192.0,561.1 L205.6,561.1 L219.1,537.2 L232.7,537.2 L246.2,537.2 L259.8,537.2 L273.3,537.2 L286.8,537.2 L300.4,537.2 L313.9,537.2 L327.5,520.3 L341.0,520.3 L354.6,520.3 L368.1,520.3 L381.7,520.3 L395.2,520.3 L408.8,520.3 L422.3,507.2 L435.8,507.2 L449.4,507.2 L462.9,507.2 L476.5,507.2 L490.0,507.2"/><polygon points="492.0,507.2 488.2,508.7 488.2,505.7" fill="#d2d2d2" stroke="none"/><circle cx="83.7" cy="601.9" r="1.5" fill="#fff" fill-opacity="0.6"/><path d="M83.7,582.4 L97.2,565.5 L110.8,565.5 L124.3,552.4 L137.8,552.4 L151.4,541.6 L164.9,532.5 L178.5,532.5 L192.0,532.5 L205.6,517.7 L219.1,517.7 L232.7,517.7 L246.2,511.5 L259.8,505.9 L273.3,505.9 L286.8,500.8 L300.4,496.1 L313.9,491.7 L327.5,491.7 L341.0,487.7 L354.6,483.9 L368.1,480.3 L381.7,476.9 L395.2,476.9 L408.8,473.8 L422.3,467.9 L435.8,467.9"/><polygon points="437.8,467.9 434.0,469.4 434.0,466.4" fill="#d2d2d2" stroke="none"/><circle cx="83.7" cy="582.4" r="1.5" fill="#fff" fill-opacity="0.6"/><path d="M83.7,527.0 L97.2,527.0 L110.8,510.1 L124.3,510.1 L137.8,496.9 L151.4,496.9 L164.9,496.9 L178.5,486.2 L192.0,486.2 L205.6,486.2 L219.1,477.1 L232.7,477.1 L246.2,469.2 L259.8,469.2 L273.3,462.3 L286.8,462.3 L300.4,456.1 L313.9,450.5 L327.5,450.5"/><polygon points="329.5,450.5 325.7,452.0 325.7,449.0" fill="#d2d2d2" stroke="none"/><circle cx="83.7" cy="527.0" r="1.5" fill="#fff" fill-opacity="0.6"/><path d="M83.7,593.1 L97.2,593.1 L110.8,593.1 L124.3,593.1 L137.8,593.1 L151.4,593.1 L164.9,552.3 L178.5,552.3"/><polygon points="180.5,552.3 176.7,553.8 176.7,550.8" fill="#d2d2d2" stroke="none"/><circle cx="83.7" cy="593.1" r="1.5" fill="#fff" fill-opacity="0.6"/><path d="M83.7,616.6 L97.2,616.6 L110.8,605.8 L124.3,605.8 L137.8,605.8 L151.4,605.8 L164.9,596.7 L178.5,596.7 L192.0,596.7 L205.6,588.9 L219.1,581.9 L232.7,581.9 L246.2,581.9 L259.8,575.7 L273.3,575.7 L286.8,575.7 L300.4,575.7 L313.9,570.1 L327.5,570.1 L341.0,565.0"/><polygon points="342.9,564.3 339.9,567.1 338.8,564.2" fill="#d2d2d2" stroke="none"/><circle cx="83.7" cy="616.6" r="1.5" fill="#fff" fill-opacity="0.6"/><path d="M83.7,599.8 L97.2,599.8 L110.8,599.8 L124.3,599.8 L137.8,599.8 L151.4,599.8 L164.9,599.8 L178.5,599.8 L192.0,599.8 L205.6,559.0 L219.1,559.0 L232.7,559.0 L246.2,559.0 L259.8,559.0 L273.3,559.0 L286.8,559.0 L300.4,559.0 L313.9,559.0 L327.5,559.0 L341.0,559.0 L354.6,559.0 L368.1,559.0 L381.7,535.1 L395.2,535.1 L408.8,535.1 L422.3,535.1"/><polygon points="424.3,535.1 420.5,536.6 420.5,533.6" fill="#d2d2d2" stroke="none"/><circle cx="83.7" cy="599.8" r="1.5" fill="#fff" fill-opacity="0.6"/><path d="M83.7,607.4 L97.2,607.4 L110.8,594.3 L124.3,594.3 L137.8,583.5 L151.4,583.5 L164.9,583.5 L178.5,574.4 L192.0,574.4 L205.6,574.4 L219.1,566.6 L232.7,559.7 L246.2,559.7 L259.8,559.7 L273.3,553.4 L286.8,553.4 L300.4,547.8 L313.9,547.8"/><polygon points="315.9,547.8 312.1,549.3 312.1,546.3" fill="#d2d2d2" stroke="none"/><circle cx="83.7" cy="607.4" r="1.5" fill="#fff" fill-opacity="0.6"/><path d="M83.7,605.9 L97.2,605.9 L110.8,605.9 L124.3,605.9 L137.8,582.1 L151.4,582.1 L164.9,582.1 L178.5,582.1"/><polygon points="180.5,582.1 176.7,583.6 176.7,580.6" fill="#d2d2d2" stroke="none"/><circle cx="83.7" cy="605.9" r="1.5" fill="#fff" fill-opacity="0.6"/><path d="M83.7,612.4 L97.2,612.4 L110.8,601.7 L124.3,601.7 L137.8,592.6 L151.4,592.6 L164.9,584.7 L178.5,584.7 L192.0,577.8 L205.6,577.8 L219.1,577.8 L232.7,577.8 L246.2,577.8 L259.8,577.8"/><polygon points="261.8,577.8 258.0,579.3 258.0,576.3" fill="#d2d2d2" stroke="none"/><circle cx="83.7" cy="612.4" r="1.5" fill="#fff" fill-opacity="0.6"/><path d="M83.7,617.8 L97.2,617.8 L110.8,617.8 L124.3,617.8 L137.8,617.8 L151.4,617.8 L164.9,617.8 L178.5,617.8"/><polygon points="180.5,617.8 176.7,619.3 176.7,616.3" fill="#d2d2d2" stroke="none"/><circle cx="83.7" cy="617.8" r="1.5" fill="#fff" fill-opacity="0.6"/><path d="M83.7,609.7 L97.2,609.7 L110.8,609.7 L124.3,609.7 L137.8,609.7 L151.4,609.7 L164.9,585.8 L178.5,585.8 L192.0,585.8 L205.6,585.8 L219.1,585.8 L232.7,568.9"/><polygon points="233.9,567.4 232.7,571.3 230.4,569.4" fill="#d2d2d2" stroke="none"/><circle cx="83.7" cy="609.7" r="1.5" fill="#fff" fill-opacity="0.6"/><path d="M83.7,612.4 L97.2,612.4 L110.8,588.5 L124.3,571.6 L137.8,558.5 L151.4,538.7 L164.9,530.8 L178.5,523.9 L192.0,517.7 L205.6,517.7 L219.1,512.0 L232.7,506.9"/><polygon points="234.5,506.2 231.5,509.0 230.5,506.2" fill="#d2d2d2" stroke="none"/><circle cx="83.7" cy="612.4" r="1.5" fill="#fff" fill-opacity="0.6"/><path d="M83.7,584.5 L97.2,571.4 L110.8,560.7 L124.3,560.7 L137.8,560.7 L151.4,551.6 L164.9,543.7 L178.5,543.7 L192.0,530.6 L205.6,530.6 L219.1,525.0 L232.7,515.2 L246.2,510.8 L259.8,502.9 L273.3,499.4 L286.8,499.4 L300.4,492.8 L313.9,489.8 L327.5,481.6 L341.0,476.7 L354.6,472.1 L368.1,467.9"/><polygon points="370.0,467.3 366.8,469.9 366.0,467.0" fill="#d2d2d2" stroke="none"/><circle cx="83.7" cy="584.5" r="1.5" fill="#fff" fill-opacity="0.6"/><path d="M83.7,564.9 L97.2,548.0 L110.8,548.0 L124.3,534.8 L137.8,534.8 L151.4,524.1 L164.9,515.0 L178.5,515.0 L192.0,515.0 L205.6,500.2 L219.1,488.4 L232.7,488.4 L246.2,474.2 L259.8,466.4 L273.3,466.4 L286.8,456.2 L300.4,450.4 L313.9,440.1 L327.5,437.8 L341.0,431.4"/><polygon points="342.8,430.5 340.0,433.5 338.8,430.8" fill="#d2d2d2" stroke="none"/><circle cx="83.7" cy="564.9" r="1.5" fill="#fff" fill-opacity="0.6"/><path d="M83.7,610.5 L97.2,597.4 L110.8,597.4 L124.3,597.4 L137.8,586.7 L151.4,586.7 L164.9,569.7 L178.5,569.7 L192.0,569.7 L205.6,556.6 L219.1,551.0 L232.7,545.9 L246.2,536.8 L259.8,536.8 L273.3,528.9 L286.8,522.0 L300.4,515.8 L313.9,512.9 L327.5,510.2 L341.0,507.6 L354.6,500.3 L368.1,496.0 L381.7,490.0 L395.2,484.6 L408.8,484.6 L422.3,482.8"/><polygon points="424.3,482.6 420.7,484.6 420.3,481.6" fill="#d2d2d2" stroke="none"/><circle cx="83.7" cy="610.5" r="1.5" fill="#fff" fill-opacity="0.6"/><path d="M83.7,551.8 L97.2,551.8 L110.8,551.8 L124.3,527.9 L137.8,527.9 L151.4,527.9 L164.9,527.9 L178.5,527.9 L192.0,527.9 L205.6,527.9 L219.1,527.9 L232.7,527.9 L246.2,527.9 L259.8,527.9"/><polygon points="261.8,527.9 258.0,529.4 258.0,526.4" fill="#d2d2d2" stroke="none"/><circle cx="83.7" cy="551.8" r="1.5" fill="#fff" fill-opacity="0.6"/><path d="M83.7,541.3 L97.2,541.3 L110.8,500.5 L124.3,500.5 L137.8,500.5 L151.4,476.6 L164.9,446.6 L178.5,435.8 L192.0,435.8 L205.6,426.8 L219.1,418.9 L232.7,418.9 L246.2,412.0 L259.8,400.1 L273.3,400.1 L286.8,385.9 L300.4,381.9 L313.9,378.1 L327.5,374.5 L341.0,368.0 L354.6,368.0 L368.1,365.0 L381.7,359.3 L395.2,356.7"/><polygon points="397.2,356.3 393.7,358.5 393.2,355.6" fill="#d2d2d2" stroke="none"/><circle cx="83.7" cy="541.3" r="1.5" fill="#fff" fill-opacity="0.6"/><path d="M83.7,621.7 L97.2,621.7 L110.8,611.0 L124.3,601.9 L137.8,594.1 L151.4,587.1 L164.9,587.1 L178.5,587.1 L192.0,587.1 L205.6,580.9 L219.1,575.3 L232.7,575.3 L246.2,570.2 L259.8,570.2"/><polygon points="261.8,570.2 258.0,571.7 258.0,568.7" fill="#d2d2d2" stroke="none"/><circle cx="83.7" cy="621.7" r="1.5" fill="#fff" fill-opacity="0.6"/><path d="M83.7,609.2 L97.2,609.2 L110.8,609.2 L124.3,592.3 L137.8,579.2 L151.4,568.4 L164.9,568.4 L178.5,568.4 L192.0,551.5 L205.6,544.6 L219.1,538.4 L232.7,538.4 L246.2,538.4 L259.8,527.6 L273.3,522.9 L286.8,518.5 L300.4,514.5 L313.9,507.1 L327.5,507.1"/><polygon points="329.5,507.1 325.7,508.6 325.7,505.6" fill="#d2d2d2" stroke="none"/><circle cx="83.7" cy="609.2" r="1.5" fill="#fff" fill-opacity="0.6"/><path d="M83.7,584.8 L97.2,584.8 L110.8,584.8 L124.3,584.8 L137.8,544.0 L151.4,544.0 L164.9,544.0 L178.5,544.0 L192.0,544.0 L205.6,520.1 L219.1,520.1 L232.7,503.2 L246.2,503.2 L259.8,490.1 L273.3,490.1 L286.8,490.1 L300.4,490.1 L313.9,479.3 L327.5,470.3 L341.0,470.3"/><polygon points="343.0,470.3 339.2,471.8 339.2,468.8" fill="#d2d2d2" stroke="none"/><circle cx="83.7" cy="584.8" r="1.5" fill="#fff" fill-opacity="0.6"/><path d="M83.7,619.5 L97.2,595.6 L110.8,595.6 L124.3,578.7 L137.8,578.7 L151.4,578.7 L164.9,578.7 L178.5,565.5 L192.0,565.5 L205.6,554.8 L219.1,545.7 L232.7,545.7 L246.2,537.9 L259.8,537.9 L273.3,537.9 L286.8,537.9 L300.4,530.9 L313.9,530.9 L327.5,530.9"/><polygon points="329.5,530.9 325.7,532.4 325.7,529.4" fill="#d2d2d2" stroke="none"/><circle cx="83.7" cy="619.5" r="1.5" fill="#fff" fill-opacity="0.6"/><path d="M83.7,620.0 L97.2,620.0 L110.8,620.0 L124.3,603.1 L137.8,603.1 L151.4,603.1 L164.9,603.1 L178.5,603.1 L192.0,589.9 L205.6,589.9 L219.1,589.9 L232.7,589.9 L246.2,579.2 L259.8,579.2 L273.3,579.2 L286.8,579.2 L300.4,570.1 L313.9,570.1 L327.5,570.1 L341.0,570.1 L354.6,570.1 L368.1,562.3"/><polygon points="369.8,561.2 367.3,564.5 365.8,561.9" fill="#d2d2d2" stroke="none"/><circle cx="83.7" cy="620.0" r="1.5" fill="#fff" fill-opacity="0.6"/><path d="M83.7,487.0 L97.2,487.0 L110.8,470.1 L124.3,470.1 L137.8,470.1 L151.4,470.1 L164.9,470.1 L178.5,457.0 L192.0,457.0 L205.6,457.0 L219.1,457.0 L232.7,457.0 L246.2,457.0 L259.8,446.2 L273.3,446.2 L286.8,446.2 L300.4,446.2 L313.9,446.2 L327.5,437.2"/><polygon points="329.1,436.0 326.8,439.4 325.1,436.9" fill="#d2d2d2" stroke="none"/><circle cx="83.7" cy="487.0" r="1.5" fill="#fff" fill-opacity="0.6"/><path d="M83.7,585.8 L97.2,585.8 L110.8,572.7 L124.3,572.7 L137.8,572.7 L151.4,572.7 L164.9,562.0 L178.5,562.0 L192.0,562.0 L205.6,552.9 L219.1,552.9 L232.7,552.9"/><polygon points="234.7,552.9 230.9,554.4 230.9,551.4" fill="#d2d2d2" stroke="none"/><circle cx="83.7" cy="585.8" r="1.5" fill="#fff" fill-opacity="0.6"/><path d="M83.7,572.3 L97.2,572.3 L110.8,572.3 L124.3,555.4 L137.8,555.4 L151.4,542.3 L164.9,542.3 L178.5,531.5 L192.0,531.5 L205.6,522.5 L219.1,522.5 L232.7,514.6"/><polygon points="234.4,513.6 231.9,516.8 230.4,514.2" fill="#d2d2d2" stroke="none"/><circle cx="83.7" cy="572.3" r="1.5" fill="#fff" fill-opacity="0.6"/><path d="M83.7,593.3 L97.2,593.3 L110.8,593.3 L124.3,569.4 L137.8,569.4 L151.4,552.5 L164.9,552.5 L178.5,552.5 L192.0,539.3 L205.6,528.6 L219.1,528.6 L232.7,519.5 L246.2,519.5 L259.8,511.7 L273.3,511.7 L286.8,511.7 L300.4,504.7 L313.9,498.5 L327.5,498.5 L341.0,492.9 L354.6,492.9 L368.1,487.8"/><polygon points="370.0,487.1 367.0,489.8 365.9,487.0" fill="#d2d2d2" stroke="none"/><circle cx="83.7" cy="593.3" r="1.5" fill="#fff" fill-opacity="0.6"/><path d="M83.7,598.0 L97.2,590.1 L110.8,583.2 L124.3,583.2 L137.8,577.0 L151.4,566.2 L164.9,566.2 L178.5,561.5 L192.0,557.2 L205.6,549.3 L219.1,549.3 L232.7,542.4 L246.2,542.4 L259.8,539.2"/><polygon points="261.7,538.7 258.3,541.1 257.7,538.1" fill="#d2d2d2" stroke="none"/><circle cx="83.7" cy="598.0" r="1.5" fill="#fff" fill-opacity="0.6"/><path d="M83.7,594.1 L97.2,594.1 L110.8,594.1 L124.3,586.3 L137.8,579.3 L151.4,579.3 L164.9,579.3 L178.5,573.1 L192.0,567.5 L205.6,567.5 L219.1,567.5 L232.7,562.4 L246.2,562.4 L259.8,562.4 L273.3,562.4 L286.8,557.7 L300.4,557.7"/><polygon points="302.4,557.7 298.6,559.2 298.6,556.2" fill="#d2d2d2" stroke="none"/><circle cx="83.7" cy="594.1" r="1.5" fill="#fff" fill-opacity="0.6"/><path d="M83.7,614.8 L97.2,605.7 L110.8,597.8 L124.3,584.7 L137.8,574.0 L151.4,569.3 L164.9,560.8 L178.5,550.1 L192.0,546.9 L205.6,535.7 L219.1,530.8 L232.7,522.0 L246.2,516.2 L259.8,514.4 L273.3,506.1 L286.8,504.6 L300.4,504.6 L313.9,496.2 L327.5,490.0"/><polygon points="329.3,489.1 326.5,492.1 325.2,489.3" fill="#d2d2d2" stroke="none"/><circle cx="83.7" cy="614.8" r="1.5" fill="#fff" fill-opacity="0.6"/><path d="M83.7,613.0 L97.2,613.0 L110.8,613.0 L124.3,599.9 L137.8,589.2 L151.4,580.1 L164.9,572.2 L178.5,565.3 L192.0,559.1 L205.6,553.5 L219.1,548.4 L232.7,535.2 L246.2,531.4 L259.8,531.4 L273.3,521.3 L286.8,512.7 L300.4,502.9 L313.9,494.4 L327.5,488.8 L341.0,480.5 L354.6,476.0"/><polygon points="356.5,475.4 353.3,478.0 352.4,475.2" fill="#d2d2d2" stroke="none"/><circle cx="83.7" cy="613.0" r="1.5" fill="#fff" fill-opacity="0.6"/><path d="M83.7,622.1 L97.2,613.1 L110.8,613.1 L124.3,605.2 L137.8,605.2 L151.4,605.2 L164.9,598.3 L178.5,598.3 L192.0,598.3 L205.6,592.1 L219.1,592.1 L232.7,592.1 L246.2,586.5 L259.8,586.5 L273.3,586.5 L286.8,581.3 L300.4,581.3"/><polygon points="302.4,581.3 298.6,582.8 298.6,579.8" fill="#d2d2d2" stroke="none"/><circle cx="83.7" cy="622.1" r="1.5" fill="#fff" fill-opacity="0.6"/><path d="M83.7,618.5 L97.2,618.5 L110.8,598.7 L124.3,583.9 L137.8,562.3 L151.4,557.9 L164.9,553.9 L178.5,546.5 L192.0,540.0 L205.6,528.7 L219.1,515.1 L232.7,513.1 L246.2,513.1 L259.8,509.3"/><polygon points="261.7,508.7 258.4,511.2 257.6,508.3" fill="#d2d2d2" stroke="none"/><circle cx="83.7" cy="618.5" r="1.5" fill="#fff" fill-opacity="0.6"/><path d="M83.7,599.4 L97.2,575.5 L110.8,575.5 L124.3,558.5 L137.8,558.5 L151.4,545.4 L164.9,525.6 L178.5,510.8 L192.0,504.6 L205.6,489.2 L219.1,489.2 L232.7,484.8 L246.2,480.7 L259.8,473.4 L273.3,470.0 L286.8,460.9"/><polygon points="288.5,459.8 286.2,463.2 284.5,460.7" fill="#d2d2d2" stroke="none"/><circle cx="83.7" cy="599.4" r="1.5" fill="#fff" fill-opacity="0.6"/><path d="M83.7,541.3 L97.2,541.3 L110.8,541.3 L124.3,541.3 L137.8,541.3 L151.4,500.5 L164.9,500.5 L178.5,500.5 L192.0,500.5 L205.6,500.5"/><polygon points="207.6,500.5 203.8,502.0 203.8,499.0" fill="#d2d2d2" stroke="none"/><circle cx="83.7" cy="541.3" r="1.5" fill="#fff" fill-opacity="0.6"/><path d="M83.7,547.4 L97.2,547.4 L110.8,547.4 L124.3,547.4 L137.8,547.4 L151.4,547.4 L164.9,547.4 L178.5,547.4 L192.0,547.4"/><polygon points="194.0,547.4 190.2,548.9 190.2,545.9" fill="#d2d2d2" stroke="none"/><circle cx="83.7" cy="547.4" r="1.5" fill="#fff" fill-opacity="0.6"/><path d="M83.7,567.5 L97.2,567.5 L110.8,567.5 L124.3,567.5 L137.8,567.5 L151.4,567.5 L164.9,567.5 L178.5,567.5 L192.0,567.5 L205.6,567.5 L219.1,567.5 L232.7,567.5 L246.2,567.5 L259.8,567.5"/><polygon points="261.8,567.5 258.0,569.0 258.0,566.0" fill="#d2d2d2" stroke="none"/><circle cx="83.7" cy="567.5" r="1.5" fill="#fff" fill-opacity="0.6"/><path d="M83.7,588.4 L97.2,588.4 L110.8,588.4 L124.3,588.4 L137.8,588.4 L151.4,588.4"/><polygon points="153.4,588.4 149.6,589.9 149.6,586.9" fill="#d2d2d2" stroke="none"/><circle cx="83.7" cy="588.4" r="1.5" fill="#fff" fill-opacity="0.6"/><path d="M83.7,617.1 L97.2,617.1 L110.8,617.1 L124.3,576.3 L137.8,576.3 L151.4,576.3 L164.9,576.3 L178.5,576.3 L192.0,576.3 L205.6,552.4 L219.1,552.4 L232.7,552.4 L246.2,535.4"/><polygon points="247.5,533.9 246.3,537.8 243.9,535.9" fill="#d2d2d2" stroke="none"/><circle cx="83.7" cy="617.1" r="1.5" fill="#fff" fill-opacity="0.6"/><path d="M83.7,562.9 L97.2,562.9 L110.8,562.9 L124.3,562.9 L137.8,562.9 L151.4,562.9"/><polygon points="153.4,562.9 149.6,564.4 149.6,561.4" fill="#d2d2d2" stroke="none"/><circle cx="83.7" cy="562.9" r="1.5" fill="#fff" fill-opacity="0.6"/><path d="M83.7,586.3 L97.2,586.3 L110.8,586.3 L124.3,586.3 L137.8,586.3 L151.4,586.3 L164.9,586.3 L178.5,586.3 L192.0,586.3 L205.6,586.3 L219.1,586.3 L232.7,586.3 L246.2,586.3 L259.8,586.3 L273.3,586.3 L286.8,586.3 L300.4,586.3 L313.9,586.3"/><polygon points="315.9,586.3 312.1,587.8 312.1,584.8" fill="#d2d2d2" stroke="none"/><circle cx="83.7" cy="586.3" r="1.5" fill="#fff" fill-opacity="0.6"/><path d="M83.7,562.9 L97.2,562.9 L110.8,562.9 L124.3,562.9 L137.8,562.9 L151.4,562.9 L164.9,562.9 L178.5,562.9 L192.0,562.9 L205.6,562.9 L219.1,562.9"/><polygon points="221.1,562.9 217.3,564.4 217.3,561.4" fill="#d2d2d2" stroke="none"/><circle cx="83.7" cy="562.9" r="1.5" fill="#fff" fill-opacity="0.6"/><path d="M83.7,552.7 L97.2,552.7 L110.8,552.7 L124.3,552.7 L137.8,552.7 L151.4,552.7 L164.9,552.7 L178.5,552.7 L192.0,552.7 L205.6,552.7 L219.1,552.7 L232.7,552.7 L246.2,552.7 L259.8,552.7 L273.3,552.7"/><polygon points="275.3,552.7 271.5,554.2 271.5,551.2" fill="#d2d2d2" stroke="none"/><circle cx="83.7" cy="552.7" r="1.5" fill="#fff" fill-opacity="0.6"/><path d="M83.7,544.3 L97.2,544.3 L110.8,544.3 L124.3,544.3 L137.8,544.3 L151.4,544.3 L164.9,544.3 L178.5,544.3 L192.0,544.3"/><polygon points="194.0,544.3 190.2,545.8 190.2,542.8" fill="#d2d2d2" stroke="none"/><circle cx="83.7" cy="544.3" r="1.5" fill="#fff" fill-opacity="0.6"/><path d="M83.7,569.5 L97.2,569.5 L110.8,569.5 L124.3,569.5 L137.8,569.5 L151.4,569.5 L164.9,569.5 L178.5,569.5 L192.0,569.5 L205.6,569.5 L219.1,569.5 L232.7,569.5 L246.2,569.5"/><polygon points="248.2,569.5 244.4,571.0 244.4,568.0" fill="#d2d2d2" stroke="none"/><circle cx="83.7" cy="569.5" r="1.5" fill="#fff" fill-opacity="0.6"/><path d="M83.7,605.7 L97.2,605.7 L110.8,605.7 L124.3,605.7 L137.8,605.7 L151.4,605.7 L164.9,605.7 L178.5,564.9 L192.0,564.9 L205.6,564.9 L219.1,564.9 L232.7,564.9 L246.2,564.9 L259.8,564.9 L273.3,564.9 L286.8,564.9"/><polygon points="288.8,564.9 285.0,566.4 285.0,563.4" fill="#d2d2d2" stroke="none"/><circle cx="83.7" cy="605.7" r="1.5" fill="#fff" fill-opacity="0.6"/><path d="M83.7,510.2 L97.2,510.2 L110.8,486.4 L124.3,486.4 L137.8,486.4 L151.4,486.4 L164.9,486.4 L178.5,486.4 L192.0,486.4 L205.6,486.4"/><polygon points="207.6,486.4 203.8,487.9 203.8,484.9" fill="#d2d2d2" stroke="none"/><circle cx="83.7" cy="510.2" r="1.5" fill="#fff" fill-opacity="0.6"/><path d="M83.7,593.2 L97.2,593.2 L110.8,593.2 L124.3,593.2 L137.8,593.2 L151.4,593.2 L164.9,593.2 L178.5,593.2 L192.0,593.2 L205.6,593.2 L219.1,593.2 L232.7,593.2 L246.2,593.2 L259.8,552.4"/><polygon points="260.4,550.5 260.6,554.5 257.8,553.6" fill="#d2d2d2" stroke="none"/><circle cx="83.7" cy="593.2" r="1.5" fill="#fff" fill-opacity="0.6"/><path d="M83.7,557.8 L97.2,557.8 L110.8,557.8 L124.3,557.8 L137.8,557.8 L151.4,557.8 L164.9,517.0 L178.5,517.0 L192.0,517.0 L205.6,493.1 L219.1,493.1"/><polygon points="221.1,493.1 217.3,494.6 217.3,491.6" fill="#d2d2d2" stroke="none"/><circle cx="83.7" cy="557.8" r="1.5" fill="#fff" fill-opacity="0.6"/><path d="M83.7,508.3 L97.2,508.3 L110.8,508.3 L124.3,508.3 L137.8,508.3 L151.4,508.3 L164.9,508.3 L178.5,508.3 L192.0,508.3 L205.6,508.3 L219.1,508.3 L232.7,508.3 L246.2,508.3"/><polygon points="248.2,508.3 244.4,509.8 244.4,506.8" fill="#d2d2d2" stroke="none"/><circle cx="83.7" cy="508.3" r="1.5" fill="#fff" fill-opacity="0.6"/><path d="M83.7,537.4 L97.2,537.4 L110.8,537.4 L124.3,537.4 L137.8,537.4 L151.4,496.6 L164.9,496.6 L178.5,496.6 L192.0,472.7 L205.6,472.7 L219.1,472.7 L232.7,472.7 L246.2,472.7 L259.8,472.7 L273.3,472.7 L286.8,472.7 L300.4,472.7"/><polygon points="302.4,472.7 298.6,474.2 298.6,471.2" fill="#d2d2d2" stroke="none"/><circle cx="83.7" cy="537.4" r="1.5" fill="#fff" fill-opacity="0.6"/><path d="M83.7,576.3 L97.2,535.5 L110.8,535.5 L124.3,535.5 L137.8,535.5 L151.4,535.5 L164.9,535.5 L178.5,535.5 L192.0,535.5 L205.6,535.5 L219.1,535.5 L232.7,535.5 L246.2,535.5 L259.8,535.5 L273.3,535.5 L286.8,535.5 L300.4,535.5 L313.9,535.5 L327.5,535.5 L341.0,535.5 L354.6,535.5"/><polygon points="356.6,535.5 352.8,537.0 352.8,534.0" fill="#d2d2d2" stroke="none"/><circle cx="83.7" cy="576.3" r="1.5" fill="#fff" fill-opacity="0.6"/><path d="M83.7,562.2 L97.2,562.2 L110.8,562.2 L124.3,562.2 L137.8,562.2 L151.4,562.2 L164.9,562.2 L178.5,562.2 L192.0,562.2 L205.6,562.2 L219.1,562.2 L232.7,562.2 L246.2,562.2 L259.8,562.2"/><polygon points="261.8,562.2 258.0,563.7 258.0,560.7" fill="#d2d2d2" stroke="none"/><circle cx="83.7" cy="562.2" r="1.5" fill="#fff" fill-opacity="0.6"/><path d="M83.7,531.7 L97.2,531.7 L110.8,531.7 L124.3,531.7 L137.8,531.7 L151.4,531.7 L164.9,531.7 L178.5,531.7 L192.0,531.7 L205.6,531.7 L219.1,531.7 L232.7,531.7 L246.2,531.7 L259.8,531.7 L273.3,531.7"/><polygon points="275.3,531.7 271.5,533.2 271.5,530.2" fill="#d2d2d2" stroke="none"/><circle cx="83.7" cy="531.7" r="1.5" fill="#fff" fill-opacity="0.6"/><path d="M83.7,608.9 L97.2,608.9 L110.8,608.9 L124.3,608.9 L137.8,608.9 L151.4,608.9 L164.9,608.9 L178.5,608.9 L192.0,608.9 L205.6,608.9 L219.1,608.9 L232.7,568.1 L246.2,568.1 L259.8,544.2 L273.3,527.3 L286.8,527.3 L300.4,527.3"/><polygon points="302.4,527.3 298.6,528.8 298.6,525.8" fill="#d2d2d2" stroke="none"/><circle cx="83.7" cy="608.9" r="1.5" fill="#fff" fill-opacity="0.6"/><path d="M83.7,595.4 L97.2,595.4 L110.8,595.4 L124.3,595.4 L137.8,595.4 L151.4,595.4 L164.9,595.4 L178.5,595.4 L192.0,595.4 L205.6,595.4 L219.1,595.4"/><polygon points="221.1,595.4 217.3,596.9 217.3,593.9" fill="#d2d2d2" stroke="none"/><circle cx="83.7" cy="595.4" r="1.5" fill="#fff" fill-opacity="0.6"/><path d="M83.7,614.9 L97.2,614.9 L110.8,614.9 L124.3,614.9 L137.8,614.9 L151.4,614.9 L164.9,614.9 L178.5,614.9 L192.0,614.9 L205.6,614.9 L219.1,614.9 L232.7,614.9"/><polygon points="234.7,614.9 230.9,616.4 230.9,613.4" fill="#d2d2d2" stroke="none"/><circle cx="83.7" cy="614.9" r="1.5" fill="#fff" fill-opacity="0.6"/><path d="M83.7,567.3 L97.2,567.3 L110.8,567.3 L124.3,567.3 L137.8,567.3 L151.4,567.3 L164.9,567.3 L178.5,567.3 L192.0,567.3 L205.6,567.3 L219.1,567.3 L232.7,567.3"/><polygon points="234.7,567.3 230.9,568.8 230.9,565.8" fill="#d2d2d2" stroke="none"/><circle cx="83.7" cy="567.3" r="1.5" fill="#fff" fill-opacity="0.6"/><path d="M83.7,499.3 L97.2,499.3 L110.8,499.3 L124.3,499.3 L137.8,499.3 L151.4,499.3 L164.9,499.3 L178.5,499.3 L192.0,499.3"/><polygon points="194.0,499.3 190.2,500.8 190.2,497.8" fill="#d2d2d2" stroke="none"/><circle cx="83.7" cy="499.3" r="1.5" fill="#fff" fill-opacity="0.6"/></g>
<path id="ref0" d="M83.67,623.15 L246.74,131.90" fill="none" stroke="#c4c4c4" stroke-width="1.2" stroke-dasharray="2.4 2.4"/>
<text font-size="17.28" fill="#999" text-anchor="end"><textPath href="#ref0" startOffset="90%"><tspan dy="5.1">Death rate doubles every day</tspan></textPath></text>
<path id="ref1" d="M83.67,623.15 L409.81,131.90" fill="none" stroke="#c4c4c4" stroke-width="1.2" stroke-dasharray="2.4 2.4"/>
<text font-size="17.28" fill="#999" text-anchor="end"><textPath href="#ref1" startOffset="90%"><tspan dy="5.1">…every 2 days</tspan></textPath></text>
<path id="ref2" d="M83.67,623.15 L572.88,131.90" fill="none" stroke="#c4c4c4" stroke-width="1.2" stroke-dasharray="2.4 2.4"/>
<text font-size="17.28" fill="#999" text-anchor="end"><textPath href="#ref2" startOffset="90%"><tspan dy="5.1">…every 3 days</tspan></textPath></text>
<path id="ref3" d="M83.67,623.15 L848.96,162.06" fill="none" stroke="#c4c4c4" stroke-width="1.2" stroke-dasharray="2.4 2.4"/>
<text font-size="17.28" fill="#999" text-anchor="end"><textPath href="#ref3" startOffset="90%"><tspan dy="5.1">…every 5 days</tspan></textPath></text>
<path id="ref4" d="M83.67,623.15 L848.96,392.60" fill="none" stroke="#c4c4c4" stroke-width="1.2" stroke-dasharray="2.4 2.4"/>
<text font-size="17.28" fill="#999" text-anchor="end"><textPath href="#ref4" startOffset="90%"><tspan dy="5.1">…every 10 days</tspan></textPath></text>
<g>
<path d="M83.7,560.9 L97.2,544.0 L110.8,544.0 L124.3,530.8 L137.8,530.8 L151.4,530.8 L164.9,503.2 L178.5,474.6 L192.0,466.2 L205.6,458.8 L219.1,449.2 L232.7,443.6 L246.2,433.8 L259.8,429.4 L273.3,421.5 L286.8,411.4 L300.4,404.2 L313.9,396.5 L327.5,395.3 L341.0,391.8 L354.6,385.5 L368.1,377.2 L381.7,373.0 L395.2,368.3 L408.8,366.9 L422.3,365.4 L435.8,363.4 L449.4,359.4 L462.9,358.7 L476.5,355.7 L490.0,355.1 L503.6,353.9 L517.1,353.3" fill="none" stroke="#4C5C78" stroke-width="1.7" stroke-linejoin="round" stroke-linecap="round"/>
<g fill="#4C5C78"><circle cx="97.2" cy="544.0" r="2.05"/><circle cx="110.8" cy="544.0" r="2.05"/><circle cx="124.3" cy="530.8" r="2.05"/><circle cx="137.8" cy="530.8" r="2.05"/><circle cx="151.4" cy="530.8" r="2.05"/><circle cx="164.9" cy="503.2" r="2.05"/><circle cx="178.5" cy="474.6" r="2.05"/><circle cx="192.0" cy="466.2" r="2.05"/><circle cx="205.6" cy="458.8" r="2.05"/><circle cx="219.1" cy="449.2" r="2.05"/><circle cx="232.7" cy="443.6" r="2.05"/><circle cx="246.2" cy="433.8" r="2.05"/><circle cx="259.8" cy="429.4" r="2.05"/><circle cx="273.3" cy="421.5" r="2.05"/><circle cx="286.8" cy="411.4" r="2.05"/><circle cx="300.4" cy="404.2" r="2.05"/><circle cx="313.9" cy="396.5" r="2.05"/><circle cx="327.5" cy="395.3" r="2.05"/><circle cx="341.0" cy="391.8" r="2.05"/><circle cx="354.6" cy="385.5" r="2.05"/><circle cx="368.1" cy="377.2" r="2.05"/><circle cx="381.7" cy="373.0" r="2.05"/><circle cx="395.2" cy="368.3" r="2.05"/><circle cx="408.8" cy="366.9" r="2.05"/><circle cx="422.3" cy="365.4" r="2.05"/><circle cx="435.8" cy="363.4" r="2.05"/><circle cx="449.4" cy="359.4" r="2.05"/><circle cx="462.9" cy="358.7" r="2.05"/><circle cx="476.5" cy="355.7" r="2.05"/><circle cx="490.0" cy="355.1" r="2.05"/><circle cx="503.6" cy="353.9" r="2.05"/></g>
<circle cx="83.7" cy="560.9" r="3.3" fill="#fff" fill-opacity="0.6" stroke="#4C5C78" stroke-width="1"/><circle cx="83.7" cy="560.9" r="1.8" fill="#4C5C78"/>
<polygon points="520.4,353.2 512.3,357.2 512.0,349.8" fill="#4C5C78"/>
</g>
<g>
<path d="M83.7,601.4 L97.2,601.4 L110.8,601.4 L124.3,601.4 L137.8,526.3 L151.4,523.6 L164.9,500.2 L178.5,480.2 L192.0,468.9 L205.6,453.1 L219.1,436.4 L232.7,421.9 L246.2,407.2 L259.8,396.6 L273.3,387.4 L286.8,372.8 L300.4,359.4 L313.9,349.1 L327.5,340.0 L341.0,332.4 L354.6,323.7 L368.1,319.8 L381.7,313.1 L395.2,304.5 L408.8,297.2 L422.3,290.2 L435.8,286.1 L449.4,283.2 L462.9,280.4 L476.5,277.0 L490.0,271.6 L503.6,266.1" fill="none" stroke="#4C5C78" stroke-width="1.7" stroke-linejoin="round" stroke-linecap="round"/>
<g fill="#4C5C78"><circle cx="97.2" cy="601.4" r="2.05"/><circle cx="110.8" cy="601.4" r="2.05"/><circle cx="124.3" cy="601.4" r="2.05"/><circle cx="137.8" cy="526.3" r="2.05"/><circle cx="151.4" cy="523.6" r="2.05"/><circle cx="164.9" cy="500.2" r="2.05"/><circle cx="178.5" cy="480.2" r="2.05"/><circle cx="192.0" cy="468.9" r="2.05"/><circle cx="205.6" cy="453.1" r="2.05"/><circle cx="219.1" cy="436.4" r="2.05"/><circle cx="232.7" cy="421.9" r="2.05"/><circle cx="246.2" cy="407.2" r="2.05"/><circle cx="259.8" cy="396.6" r="2.05"/><circle cx="273.3" cy="387.4" r="2.05"/><circle cx="286.8" cy="372.8" r="2.05"/><circle cx="300.4" cy="359.4" r="2.05"/><circle cx="313.9" cy="349.1" r="2.05"/><circle cx="327.5" cy="340.0" r="2.05"/><circle cx="341.0" cy="332.4" r="2.05"/><circle cx="354.6" cy="323.7" r="2.05"/><circle cx="368.1" cy="319.8" r="2.05"/><circle cx="381.7" cy="313.1" r="2.05"/><circle cx="395.2" cy="304.5" r="2.05"/><circle cx="408.8" cy="297.2" r="2.05"/><circle cx="422.3" cy="290.2" r="2.05"/><circle cx="435.8" cy="286.1" r="2.05"/><circle cx="449.4" cy="283.2" r="2.05"/><circle cx="462.9" cy="280.4" r="2.05"/><circle cx="476.5" cy="277.0" r="2.05"/><circle cx="490.0" cy="271.6" r="2.05"/></g>
<circle cx="83.7" cy="601.4" r="3.3" fill="#fff" fill-opacity="0.6" stroke="#4C5C78" stroke-width="1"/><circle cx="83.7" cy="601.4" r="1.8" fill="#4C5C78"/>
<polygon points="506.6,264.9 500.3,271.4 497.5,264.6" fill="#4C5C78"/>
</g>
<g>
<path d="M83.7,589.4 L97.2,589.4 L110.8,572.4 L124.3,559.3 L137.8,559.3 L151.4,559.3 L164.9,507.8 L178.5,477.7 L192.0,467.0 L205.6,432.6 L219.1,415.0 L232.7,399.1 L246.2,379.5 L259.8,364.8 L273.3,348.7 L286.8,338.4 L300.4,323.2 L313.9,308.2 L327.5,296.5 L341.0,283.0 L354.6,273.8 L368.1,262.7 L381.7,256.0 L395.2,245.1 L408.8,238.0 L422.3,230.2 L435.8,224.0 L449.4,217.9 L462.9,213.9 L476.5,210.6 L490.0,203.7 L503.6,199.7 L517.1,196.0 L530.7,193.2 L544.2,190.2 L557.7,188.1 L571.3,186.3 L584.8,183.8 L598.4,180.1" fill="none" stroke="#4C5C78" stroke-width="1.7" stroke-linejoin="round" stroke-linecap="round"/>
<g fill="#4C5C78"><circle cx="97.2" cy="589.4" r="2.05"/><circle cx="110.8" cy="572.4" r="2.05"/><circle cx="124.3" cy="559.3" r="2.05"/><circle cx="137.8" cy="559.3" r="2.05"/><circle cx="151.4" cy="559.3" r="2.05"/><circle cx="164.9" cy="507.8" r="2.05"/><circle cx="178.5" cy="477.7" r="2.05"/><circle cx="192.0" cy="467.0" r="2.05"/><circle cx="205.6" cy="432.6" r="2.05"/><circle cx="219.1" cy="415.0" r="2.05"/><circle cx="232.7" cy="399.1" r="2.05"/><circle cx="246.2" cy="379.5" r="2.05"/><circle cx="259.8" cy="364.8" r="2.05"/><circle cx="273.3" cy="348.7" r="2.05"/><circle cx="286.8" cy="338.4" r="2.05"/><circle cx="300.4" cy="323.2" r="2.05"/><circle cx="313.9" cy="308.2" r="2.05"/><circle cx="327.5" cy="296.5" r="2.05"/><circle cx="341.0" cy="283.0" r="2.05"/><circle cx="354.6" cy="273.8" r="2.05"/><circle cx="368.1" cy="262.7" r="2.05"/><circle cx="381.7" cy="256.0" r="2.05"/><circle cx="395.2" cy="245.1" r="2.05"/><circle cx="408.8" cy="238.0" r="2.05"/><circle cx="422.3" cy="230.2" r="2.05"/><circle cx="435.8" cy="224.0" r="2.05"/><circle cx="449.4" cy="217.9" r="2.05"/><circle cx="462.9" cy="213.9" r="2.05"/><circle cx="476.5" cy="210.6" r="2.05"/><circle cx="490.0" cy="203.7" r="2.05"/><circle cx="503.6" cy="199.7" r="2.05"/><circle cx="517.1" cy="196.0" r="2.05"/><circle cx="530.7" cy="193.2" r="2.05"/><circle cx="544.2" cy="190.2" r="2.05"/><circle cx="557.7" cy="188.1" r="2.05"/><circle cx="571.3" cy="186.3" r="2.05"/><circle cx="584.8" cy="183.8" r="2.05"/></g>
<circle cx="83.7" cy="589.4" r="3.3" fill="#fff" fill-opacity="0.6" stroke="#4C5C78" stroke-width="1"/><circle cx="83.7" cy="589.4" r="1.8" fill="#4C5C78"/>
<polygon points="601.6,179.3 594.5,185.0 592.6,177.9" fill="#4C5C78"/>
</g>
<g>
<path d="M83.7,566.3 L97.2,566.3 L110.8,566.3 L124.3,549.4 L137.8,549.4 L151.4,536.2 L164.9,536.2 L178.5,475.6 L192.0,451.7 L205.6,418.4 L219.1,383.4 L232.7,376.8 L246.2,367.4 L259.8,348.2 L273.3,325.9 L286.8,313.5 L300.4,297.4 L313.9,285.6 L327.5,273.9 L341.0,263.6 L354.6,244.9 L368.1,235.4 L381.7,223.7 L395.2,216.4 L408.8,209.6 L422.3,202.6 L435.8,195.5 L449.4,182.5 L462.9,176.8 L476.5,169.8 L490.0,159.3 L503.6,153.2 L517.1,148.9 L530.7,144.2 L544.2,140.4 L557.7,136.6" fill="none" stroke="#4C5C78" stroke-width="1.7" stroke-linejoin="round" stroke-linecap="round"/>
<g fill="#4C5C78"><circle cx="97.2" cy="566.3" r="2.05"/><circle cx="110.8" cy="566.3" r="2.05"/><circle cx="124.3" cy="549.4" r="2.05"/><circle cx="137.8" cy="549.4" r="2.05"/><circle cx="151.4" cy="536.2" r="2.05"/><circle cx="164.9" cy="536.2" r="2.05"/><circle cx="178.5" cy="475.6" r="2.05"/><circle cx="192.0" cy="451.7" r="2.05"/><circle cx="205.6" cy="418.4" r="2.05"/><circle cx="219.1" cy="383.4" r="2.05"/><circle cx="232.7" cy="376.8" r="2.05"/><circle cx="246.2" cy="367.4" r="2.05"/><circle cx="259.8" cy="348.2" r="2.05"/><circle cx="273.3" cy="325.9" r="2.05"/><circle cx="286.8" cy="313.5" r="2.05"/><circle cx="300.4" cy="297.4" r="2.05"/><circle cx="313.9" cy="285.6" r="2.05"/><circle cx="327.5" cy="273.9" r="2.05"/><circle cx="341.0" cy="263.6" r="2.05"/><circle cx="354.6" cy="244.9" r="2.05"/><circle cx="368.1" cy="235.4" r="2.05"/><circle cx="381.7" cy="223.7" r="2.05"/><circle cx="395.2" cy="216.4" r="2.05"/><circle cx="408.8" cy="209.6" r="2.05"/><circle cx="422.3" cy="202.6" r="2.05"/><circle cx="435.8" cy="195.5" r="2.05"/><circle cx="449.4" cy="182.5" r="2.05"/><circle cx="462.9" cy="176.8" r="2.05"/><circle cx="476.5" cy="169.8" r="2.05"/><circle cx="490.0" cy="159.3" r="2.05"/><circle cx="503.6" cy="153.2" r="2.05"/><circle cx="517.1" cy="148.9" r="2.05"/><circle cx="530.7" cy="144.2" r="2.05"/><circle cx="544.2" cy="140.4" r="2.05"/></g>
<circle cx="83.7" cy="566.3" r="3.3" fill="#fff" fill-opacity="0.6" stroke="#4C5C78" stroke-width="1"/><circle cx="83.7" cy="566.3" r="1.8" fill="#4C5C78"/>
<polygon points="560.9,135.7 554.0,141.5 551.9,134.4" fill="#4C5C78"/>
</g>
<g>
<path d="M83.7,604.5 L97.2,596.6 L110.8,577.9 L124.3,572.8 L137.8,568.1 L151.4,555.8 L164.9,552.3 L178.5,537.1 L192.0,522.9 L205.6,515.0 L219.1,509.8 L232.7,499.0 L246.2,496.3 L259.8,488.8 L273.3,487.6 L286.8,484.2 L300.4,478.0 L313.9,472.4 L327.5,471.5 L341.0,467.3 L354.6,464.9 L368.1,464.9 L381.7,460.4 L395.2,458.2 L408.8,453.5 L422.3,451.6 L435.8,446.8 L449.4,445.7 L462.9,441.8 L476.5,437.2 L490.0,434.4 L503.6,432.1 L517.1,428.6 L530.7,426.5 L544.2,423.3 L557.7,421.0 L571.3,419.6 L584.8,418.5 L598.4,417.1 L611.9,415.4 L625.5,414.3 L639.0,412.4 L652.6,411.4 L666.1,409.6 L679.6,407.2 L693.2,406.0 L706.7,404.8 L720.3,404.0 L733.8,403.2 L747.4,402.4 L760.9,401.0 L774.5,400.2 L788.0,399.2" fill="none" stroke="#2D8587" stroke-width="1.7" stroke-linejoin="round" stroke-linecap="round"/>
<g fill="#2D8587"><circle cx="97.2" cy="596.6" r="2.05"/><circle cx="110.8" cy="577.9" r="2.05"/><circle cx="124.3" cy="572.8" r="2.05"/><circle cx="137.8" cy="568.1" r="2.05"/><circle cx="151.4" cy="555.8" r="2.05"/><circle cx="164.9" cy="552.3" r="2.05"/><circle cx="178.5" cy="537.1" r="2.05"/><circle cx="192.0" cy="522.9" r="2.05"/><circle cx="205.6" cy="515.0" r="2.05"/><circle cx="219.1" cy="509.8" r="2.05"/><circle cx="232.7" cy="499.0" r="2.05"/><circle cx="246.2" cy="496.3" r="2.05"/><circle cx="259.8" cy="488.8" r="2.05"/><circle cx="273.3" cy="487.6" r="2.05"/><circle cx="286.8" cy="484.2" r="2.05"/><circle cx="300.4" cy="478.0" r="2.05"/><circle cx="313.9" cy="472.4" r="2.05"/><circle cx="327.5" cy="471.5" r="2.05"/><circle cx="341.0" cy="467.3" r="2.05"/><circle cx="354.6" cy="464.9" r="2.05"/><circle cx="368.1" cy="464.9" r="2.05"/><circle cx="381.7" cy="460.4" r="2.05"/><circle cx="395.2" cy="458.2" r="2.05"/><circle cx="408.8" cy="453.5" r="2.05"/><circle cx="422.3" cy="451.6" r="2.05"/><circle cx="435.8" cy="446.8" r="2.05"/><circle cx="449.4" cy="445.7" r="2.05"/><circle cx="462.9" cy="441.8" r="2.05"/><circle cx="476.5" cy="437.2" r="2.05"/><circle cx="490.0" cy="434.4" r="2.05"/><circle cx="503.6" cy="432.1" r="2.05"/><circle cx="517.1" cy="428.6" r="2.05"/><circle cx="530.7" cy="426.5" r="2.05"/><circle cx="544.2" cy="423.3" r="2.05"/><circle cx="557.7" cy="421.0" r="2.05"/><circle cx="571.3" cy="419.6" r="2.05"/><circle cx="584.8" cy="418.5" r="2.05"/><circle cx="598.4" cy="417.1" r="2.05"/><circle cx="611.9" cy="415.4" r="2.05"/><circle cx="625.5" cy="414.3" r="2.05"/><circle cx="639.0" cy="412.4" r="2.05"/><circle cx="652.6" cy="411.4" r="2.05"/><circle cx="666.1" cy="409.6" r="2.05"/><circle cx="679.6" cy="407.2" r="2.05"/><circle cx="693.2" cy="406.0" r="2.05"/><circle cx="706.7" cy="404.8" r="2.05"/><circle cx="720.3" cy="404.0" r="2.05"/><circle cx="733.8" cy="403.2" r="2.05"/><circle cx="747.4" cy="402.4" r="2.05"/><circle cx="760.9" cy="401.0" r="2.05"/><circle cx="774.5" cy="400.2" r="2.05"/></g>
<circle cx="83.7" cy="604.5" r="3.3" fill="#fff" fill-opacity="0.6" stroke="#2D8587" stroke-width="1"/><circle cx="83.7" cy="604.5" r="1.8" fill="#2D8587"/>
<polygon points="791.3,398.9 783.3,403.3 782.7,395.9" fill="#2D8587"/>
</g>
<g>
<path d="M83.7,614.7 L97.2,614.7 L110.8,614.7 L124.3,614.7 L137.8,550.0 L151.4,519.9 L164.9,492.3 L178.5,479.1 L192.0,468.4 L205.6,455.3 L219.1,447.9 L232.7,438.3 L246.2,435.5 L259.8,407.1 L273.3,399.0 L286.8,389.3 L300.4,385.6 L313.9,376.7 L327.5,368.9 L341.0,363.7 L354.6,352.5 L368.1,346.6 L381.7,343.0 L395.2,341.8 L408.8,334.8 L422.3,331.4 L435.8,327.5" fill="none" stroke="#2D8587" stroke-width="1.7" stroke-linejoin="round" stroke-linecap="round"/>
<g fill="#2D8587"><circle cx="97.2" cy="614.7" r="2.05"/><circle cx="110.8" cy="614.7" r="2.05"/><circle cx="124.3" cy="614.7" r="2.05"/><circle cx="137.8" cy="550.0" r="2.05"/><circle cx="151.4" cy="519.9" r="2.05"/><circle cx="164.9" cy="492.3" r="2.05"/><circle cx="178.5" cy="479.1" r="2.05"/><circle cx="192.0" cy="468.4" r="2.05"/><circle cx="205.6" cy="455.3" r="2.05"/><circle cx="219.1" cy="447.9" r="2.05"/><circle cx="232.7" cy="438.3" r="2.05"/><circle cx="246.2" cy="435.5" r="2.05"/><circle cx="259.8" cy="407.1" r="2.05"/><circle cx="273.3" cy="399.0" r="2.05"/><circle cx="286.8" cy="389.3" r="2.05"/><circle cx="300.4" cy="385.6" r="2.05"/><circle cx="313.9" cy="376.7" r="2.05"/><circle cx="327.5" cy="368.9" r="2.05"/><circle cx="341.0" cy="363.7" r="2.05"/><circle cx="354.6" cy="352.5" r="2.05"/><circle cx="368.1" cy="346.6" r="2.05"/><circle cx="381.7" cy="343.0" r="2.05"/><circle cx="395.2" cy="341.8" r="2.05"/><circle cx="408.8" cy="334.8" r="2.05"/><circle cx="422.3" cy="331.4" r="2.05"/></g>
<circle cx="83.7" cy="614.7" r="3.3" fill="#fff" fill-opacity="0.6" stroke="#2D8587" stroke-width="1"/><circle cx="83.7" cy="614.7" r="1.8" fill="#2D8587"/>
<polygon points="439.0,326.5 432.1,332.4 430.0,325.3" fill="#2D8587"/>
</g>
<text x="79.6" y="567.9" font-size="9.6" fill="#4C5C78" stroke="#fff" stroke-width="2.4" paint-order="stroke" stroke-linejoin="round">Mar 12, 2020</text>
<text x="79.6" y="590.6" font-size="9.6" fill="#4C5C78" stroke="#fff" stroke-width="2.4" paint-order="stroke" stroke-linejoin="round">Mar 9, 2020</text>
<text x="79.6" y="608.7" font-size="9.6" fill="#4C5C78" stroke="#fff" stroke-width="2.4" paint-order="stroke" stroke-linejoin="round">Mar 16, 2020</text>
<text x="522.7" y="352.4" font-size="14.35" font-weight="bold" fill="#4C5C78" stroke="#fff" stroke-width="3" paint-order="stroke" stroke-linejoin="round">Greece</text>
<text x="509.2" y="264.3" font-size="14.35" font-weight="bold" fill="#4C5C78" stroke="#fff" stroke-width="3" paint-order="stroke" stroke-linejoin="round">Germany</text>
<text x="603.7" y="178.6" font-size="14.35" font-weight="bold" fill="#4C5C78" stroke="#fff" stroke-width="3" paint-order="stroke" stroke-linejoin="round">Netherlands</text>
<text x="563.1" y="145.9" font-size="14.35" font-weight="bold" fill="#4C5C78" stroke="#fff" stroke-width="3" paint-order="stroke" stroke-linejoin="round">Belgium</text>
<text x="713.5" y="399.7" font-size="14.35" font-weight="bold" fill="#2D8587" stroke="#fff" stroke-width="3" paint-order="stroke" stroke-linejoin="round">South Korea</text>
<text x="442.1" y="326.3" font-size="14.35" font-weight="bold" fill="#2D8587" stroke="#fff" stroke-width="3" paint-order="stroke" stroke-linejoin="round">Israel</text>
<rect x="882.3" y="135.1" width="7" height="7" fill="#ccc"/>
<text x="895" y="143.7" font-size="15.12" fill="#ccc">Africa</text>
<rect x="882.3" y="156.2" width="7" height="7" fill="#2D8587"/>
<text x="895" y="164.8" font-size="15.12" fill="#111">Asia</text>
<rect x="882.3" y="177.4" width="7" height="7" fill="#4C5C78"/>
<text x="895" y="186.0" font-size="15.12" fill="#111">Europe</text>
<rect x="882.3" y="198.5" width="7" height="7" fill="#ccc"/>
<text x="895" y="207.1" font-size="15.12" fill="#ccc">North America</text>
<rect x="882.3" y="219.6" width="7" height="7" fill="#ccc"/>
<text x="895" y="228.2" font-size="15.12" fill="#ccc">Oceania</text>
<rect x="882.3" y="240.8" width="7" height="7" fill="#ccc"/>
<text x="895" y="249.3" font-size="15.12" fill="#ccc">South America</text>
<line x1="882" y1="260.7" x2="996" y2="260.7" stroke="#ccc" stroke-width="1.2"/>
<text x="882" y="283.3" font-size="15.12" fill="#333">Jan</text><text x="968.3" y="283.3" font-size="15.12" fill="#333">Apr</text>
<text x="882" y="300.0" font-size="15.12" fill="#333">31,</text><text x="968.3" y="300.0" font-size="15.12" fill="#333">16,</text>
<text x="882" y="316.7" font-size="15.12" fill="#333">2020</text><text x="968.3" y="316.7" font-size="15.12" fill="#333">2020</text>
<g fill="#666" stroke="#666"><line x1="921.6" y1="294.7" x2="959" y2="294.7" stroke-width="1.7"/><circle cx="921.6" cy="294.7" r="2.1" stroke="none"/><circle cx="935" cy="294.7" r="2.1" stroke="none"/><circle cx="948.4" cy="294.7" r="2.1" stroke="none"/><polygon points="965.2,294.7 958,291.4 958,298" stroke="none"/></g>
<text x="18.5" y="698.1" font-size="15.12" fill="#777">Source: European CDC – Situation Update Worldwide – Last updated 16th April, 11:30 (London time)</text>
<text x="998" y="698.1" font-size="15.12" fill="#777" text-anchor="end">OurWorldInData.org/coronavirus • CC BY</text>
</svg></body></html>
